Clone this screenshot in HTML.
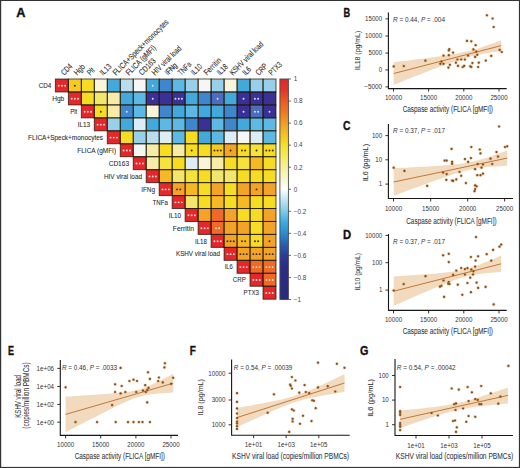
<!DOCTYPE html>
<html><head><meta charset="utf-8"><style>
html,body{margin:0;padding:0;background:#fff;}
body{width:520px;height:468px;overflow:hidden;}
svg{display:block;font-family:"Liberation Sans", sans-serif;}
</style></head><body>
<svg width="520" height="468" viewBox="0 0 520 468">
<rect x="0" y="0" width="520" height="468" fill="#fff"/>
<g>
<rect x="55.40" y="79.00" width="12.976" height="12.952" fill="#e3272a"/>
<rect x="68.38" y="79.00" width="12.976" height="12.952" fill="#f6ca22"/>
<rect x="81.35" y="79.00" width="12.976" height="12.952" fill="#f7dc24"/>
<rect x="94.33" y="79.00" width="12.976" height="12.952" fill="#f9f5da"/>
<rect x="107.30" y="79.00" width="12.976" height="12.952" fill="#43a9dc"/>
<rect x="120.28" y="79.00" width="12.976" height="12.952" fill="#b9dcee"/>
<rect x="133.26" y="79.00" width="12.976" height="12.952" fill="#f6f7f5"/>
<rect x="146.23" y="79.00" width="12.976" height="12.952" fill="#43a9dc"/>
<rect x="159.21" y="79.00" width="12.976" height="12.952" fill="#3f86cc"/>
<rect x="172.18" y="79.00" width="12.976" height="12.952" fill="#5db9e3"/>
<rect x="185.16" y="79.00" width="12.976" height="12.952" fill="#98d0ea"/>
<rect x="198.14" y="79.00" width="12.976" height="12.952" fill="#f6f7f5"/>
<rect x="211.11" y="79.00" width="12.976" height="12.952" fill="#98d0ea"/>
<rect x="224.09" y="79.00" width="12.976" height="12.952" fill="#f9f5da"/>
<rect x="237.06" y="79.00" width="12.976" height="12.952" fill="#43a9dc"/>
<rect x="250.04" y="79.00" width="12.976" height="12.952" fill="#98d0ea"/>
<rect x="263.02" y="79.00" width="12.976" height="12.952" fill="#98d0ea"/>
<rect x="68.38" y="91.95" width="12.976" height="12.952" fill="#e3272a"/>
<rect x="81.35" y="91.95" width="12.976" height="12.952" fill="#f7dc24"/>
<rect x="94.33" y="91.95" width="12.976" height="12.952" fill="#f3e66c"/>
<rect x="107.30" y="91.95" width="12.976" height="12.952" fill="#f6eca8"/>
<rect x="120.28" y="91.95" width="12.976" height="12.952" fill="#43a9dc"/>
<rect x="133.26" y="91.95" width="12.976" height="12.952" fill="#5db9e3"/>
<rect x="146.23" y="91.95" width="12.976" height="12.952" fill="#3a3096"/>
<rect x="159.21" y="91.95" width="12.976" height="12.952" fill="#3a3096"/>
<rect x="172.18" y="91.95" width="12.976" height="12.952" fill="#3a3096"/>
<rect x="185.16" y="91.95" width="12.976" height="12.952" fill="#43a9dc"/>
<rect x="198.14" y="91.95" width="12.976" height="12.952" fill="#3f86cc"/>
<rect x="211.11" y="91.95" width="12.976" height="12.952" fill="#4b6cbf"/>
<rect x="224.09" y="91.95" width="12.976" height="12.952" fill="#43a9dc"/>
<rect x="237.06" y="91.95" width="12.976" height="12.952" fill="#3a3096"/>
<rect x="250.04" y="91.95" width="12.976" height="12.952" fill="#3a3096"/>
<rect x="263.02" y="91.95" width="12.976" height="12.952" fill="#3a3096"/>
<rect x="81.35" y="104.90" width="12.976" height="12.952" fill="#e3272a"/>
<rect x="94.33" y="104.90" width="12.976" height="12.952" fill="#f7dc24"/>
<rect x="107.30" y="104.90" width="12.976" height="12.952" fill="#f6eca8"/>
<rect x="120.28" y="104.90" width="12.976" height="12.952" fill="#3f86cc"/>
<rect x="133.26" y="104.90" width="12.976" height="12.952" fill="#5db9e3"/>
<rect x="146.23" y="104.90" width="12.976" height="12.952" fill="#f9f5da"/>
<rect x="159.21" y="104.90" width="12.976" height="12.952" fill="#3f86cc"/>
<rect x="172.18" y="104.90" width="12.976" height="12.952" fill="#43a9dc"/>
<rect x="185.16" y="104.90" width="12.976" height="12.952" fill="#5db9e3"/>
<rect x="198.14" y="104.90" width="12.976" height="12.952" fill="#43a9dc"/>
<rect x="211.11" y="104.90" width="12.976" height="12.952" fill="#43a9dc"/>
<rect x="224.09" y="104.90" width="12.976" height="12.952" fill="#3f86cc"/>
<rect x="237.06" y="104.90" width="12.976" height="12.952" fill="#3a3096"/>
<rect x="250.04" y="104.90" width="12.976" height="12.952" fill="#4b6cbf"/>
<rect x="263.02" y="104.90" width="12.976" height="12.952" fill="#3a3096"/>
<rect x="94.33" y="117.86" width="12.976" height="12.952" fill="#e3272a"/>
<rect x="107.30" y="117.86" width="12.976" height="12.952" fill="#98d0ea"/>
<rect x="120.28" y="117.86" width="12.976" height="12.952" fill="#43a9dc"/>
<rect x="133.26" y="117.86" width="12.976" height="12.952" fill="#dcedf6"/>
<rect x="146.23" y="117.86" width="12.976" height="12.952" fill="#43a9dc"/>
<rect x="159.21" y="117.86" width="12.976" height="12.952" fill="#5db9e3"/>
<rect x="172.18" y="117.86" width="12.976" height="12.952" fill="#5db9e3"/>
<rect x="185.16" y="117.86" width="12.976" height="12.952" fill="#3f86cc"/>
<rect x="198.14" y="117.86" width="12.976" height="12.952" fill="#3a3096"/>
<rect x="211.11" y="117.86" width="12.976" height="12.952" fill="#5db9e3"/>
<rect x="224.09" y="117.86" width="12.976" height="12.952" fill="#3f86cc"/>
<rect x="237.06" y="117.86" width="12.976" height="12.952" fill="#43a9dc"/>
<rect x="250.04" y="117.86" width="12.976" height="12.952" fill="#5db9e3"/>
<rect x="263.02" y="117.86" width="12.976" height="12.952" fill="#5db9e3"/>
<rect x="107.30" y="130.81" width="12.976" height="12.952" fill="#e3272a"/>
<rect x="120.28" y="130.81" width="12.976" height="12.952" fill="#f7dc24"/>
<rect x="133.26" y="130.81" width="12.976" height="12.952" fill="#98d0ea"/>
<rect x="146.23" y="130.81" width="12.976" height="12.952" fill="#b9dcee"/>
<rect x="159.21" y="130.81" width="12.976" height="12.952" fill="#dcedf6"/>
<rect x="172.18" y="130.81" width="12.976" height="12.952" fill="#5db9e3"/>
<rect x="185.16" y="130.81" width="12.976" height="12.952" fill="#f7dc24"/>
<rect x="198.14" y="130.81" width="12.976" height="12.952" fill="#43a9dc"/>
<rect x="211.11" y="130.81" width="12.976" height="12.952" fill="#5db9e3"/>
<rect x="224.09" y="130.81" width="12.976" height="12.952" fill="#dcedf6"/>
<rect x="237.06" y="130.81" width="12.976" height="12.952" fill="#f6f7f5"/>
<rect x="250.04" y="130.81" width="12.976" height="12.952" fill="#dcedf6"/>
<rect x="263.02" y="130.81" width="12.976" height="12.952" fill="#5db9e3"/>
<rect x="120.28" y="143.76" width="12.976" height="12.952" fill="#e3272a"/>
<rect x="133.26" y="143.76" width="12.976" height="12.952" fill="#f6f7f5"/>
<rect x="146.23" y="143.76" width="12.976" height="12.952" fill="#f6eca8"/>
<rect x="159.21" y="143.76" width="12.976" height="12.952" fill="#f7dc24"/>
<rect x="172.18" y="143.76" width="12.976" height="12.952" fill="#f6eca8"/>
<rect x="185.16" y="143.76" width="12.976" height="12.952" fill="#f7dc24"/>
<rect x="198.14" y="143.76" width="12.976" height="12.952" fill="#f7dc24"/>
<rect x="211.11" y="143.76" width="12.976" height="12.952" fill="#f6ca22"/>
<rect x="224.09" y="143.76" width="12.976" height="12.952" fill="#f3a428"/>
<rect x="237.06" y="143.76" width="12.976" height="12.952" fill="#f7dc24"/>
<rect x="250.04" y="143.76" width="12.976" height="12.952" fill="#f6e23c"/>
<rect x="263.02" y="143.76" width="12.976" height="12.952" fill="#f7dc24"/>
<rect x="133.26" y="156.71" width="12.976" height="12.952" fill="#e3272a"/>
<rect x="146.23" y="156.71" width="12.976" height="12.952" fill="#f6eca8"/>
<rect x="159.21" y="156.71" width="12.976" height="12.952" fill="#f6e23c"/>
<rect x="172.18" y="156.71" width="12.976" height="12.952" fill="#f7dc24"/>
<rect x="185.16" y="156.71" width="12.976" height="12.952" fill="#dcedf6"/>
<rect x="198.14" y="156.71" width="12.976" height="12.952" fill="#f9f5da"/>
<rect x="211.11" y="156.71" width="12.976" height="12.952" fill="#f6eca8"/>
<rect x="224.09" y="156.71" width="12.976" height="12.952" fill="#f7dc24"/>
<rect x="237.06" y="156.71" width="12.976" height="12.952" fill="#f6e23c"/>
<rect x="250.04" y="156.71" width="12.976" height="12.952" fill="#f6b824"/>
<rect x="263.02" y="156.71" width="12.976" height="12.952" fill="#f7dc24"/>
<rect x="146.23" y="169.66" width="12.976" height="12.952" fill="#e3272a"/>
<rect x="159.21" y="169.66" width="12.976" height="12.952" fill="#f6b824"/>
<rect x="172.18" y="169.66" width="12.976" height="12.952" fill="#f3e66c"/>
<rect x="185.16" y="169.66" width="12.976" height="12.952" fill="#f6e23c"/>
<rect x="198.14" y="169.66" width="12.976" height="12.952" fill="#f7dc24"/>
<rect x="211.11" y="169.66" width="12.976" height="12.952" fill="#f3e66c"/>
<rect x="224.09" y="169.66" width="12.976" height="12.952" fill="#f3e66c"/>
<rect x="237.06" y="169.66" width="12.976" height="12.952" fill="#f7dc24"/>
<rect x="250.04" y="169.66" width="12.976" height="12.952" fill="#f7dc24"/>
<rect x="263.02" y="169.66" width="12.976" height="12.952" fill="#f7dc24"/>
<rect x="159.21" y="182.62" width="12.976" height="12.952" fill="#e3272a"/>
<rect x="172.18" y="182.62" width="12.976" height="12.952" fill="#f3a428"/>
<rect x="185.16" y="182.62" width="12.976" height="12.952" fill="#f6b824"/>
<rect x="198.14" y="182.62" width="12.976" height="12.952" fill="#f7dc24"/>
<rect x="211.11" y="182.62" width="12.976" height="12.952" fill="#f3a428"/>
<rect x="224.09" y="182.62" width="12.976" height="12.952" fill="#f7dc24"/>
<rect x="237.06" y="182.62" width="12.976" height="12.952" fill="#f3a428"/>
<rect x="250.04" y="182.62" width="12.976" height="12.952" fill="#f3a428"/>
<rect x="263.02" y="182.62" width="12.976" height="12.952" fill="#f3a428"/>
<rect x="172.18" y="195.57" width="12.976" height="12.952" fill="#e3272a"/>
<rect x="185.16" y="195.57" width="12.976" height="12.952" fill="#f3e66c"/>
<rect x="198.14" y="195.57" width="12.976" height="12.952" fill="#f7dc24"/>
<rect x="211.11" y="195.57" width="12.976" height="12.952" fill="#f6b824"/>
<rect x="224.09" y="195.57" width="12.976" height="12.952" fill="#f7dc24"/>
<rect x="237.06" y="195.57" width="12.976" height="12.952" fill="#f6b824"/>
<rect x="250.04" y="195.57" width="12.976" height="12.952" fill="#f7dc24"/>
<rect x="263.02" y="195.57" width="12.976" height="12.952" fill="#f7dc24"/>
<rect x="185.16" y="208.52" width="12.976" height="12.952" fill="#e3272a"/>
<rect x="198.14" y="208.52" width="12.976" height="12.952" fill="#f3a428"/>
<rect x="211.11" y="208.52" width="12.976" height="12.952" fill="#ee6a26"/>
<rect x="224.09" y="208.52" width="12.976" height="12.952" fill="#f3a428"/>
<rect x="237.06" y="208.52" width="12.976" height="12.952" fill="#f7dc24"/>
<rect x="250.04" y="208.52" width="12.976" height="12.952" fill="#f7dc24"/>
<rect x="263.02" y="208.52" width="12.976" height="12.952" fill="#f3a428"/>
<rect x="198.14" y="221.47" width="12.976" height="12.952" fill="#e3272a"/>
<rect x="211.11" y="221.47" width="12.976" height="12.952" fill="#ee6a26"/>
<rect x="224.09" y="221.47" width="12.976" height="12.952" fill="#f3a428"/>
<rect x="237.06" y="221.47" width="12.976" height="12.952" fill="#f3a428"/>
<rect x="250.04" y="221.47" width="12.976" height="12.952" fill="#f7dc24"/>
<rect x="263.02" y="221.47" width="12.976" height="12.952" fill="#f3a428"/>
<rect x="211.11" y="234.42" width="12.976" height="12.952" fill="#e3272a"/>
<rect x="224.09" y="234.42" width="12.976" height="12.952" fill="#f3a428"/>
<rect x="237.06" y="234.42" width="12.976" height="12.952" fill="#f6b824"/>
<rect x="250.04" y="234.42" width="12.976" height="12.952" fill="#f7dc24"/>
<rect x="263.02" y="234.42" width="12.976" height="12.952" fill="#f3a428"/>
<rect x="224.09" y="247.38" width="12.976" height="12.952" fill="#e3272a"/>
<rect x="237.06" y="247.38" width="12.976" height="12.952" fill="#f3a428"/>
<rect x="250.04" y="247.38" width="12.976" height="12.952" fill="#f3a428"/>
<rect x="263.02" y="247.38" width="12.976" height="12.952" fill="#f3a428"/>
<rect x="237.06" y="260.33" width="12.976" height="12.952" fill="#e3272a"/>
<rect x="250.04" y="260.33" width="12.976" height="12.952" fill="#ee6a26"/>
<rect x="263.02" y="260.33" width="12.976" height="12.952" fill="#ee6a26"/>
<rect x="250.04" y="273.28" width="12.976" height="12.952" fill="#e3272a"/>
<rect x="263.02" y="273.28" width="12.976" height="12.952" fill="#ee6a26"/>
<rect x="263.02" y="286.23" width="12.976" height="12.952" fill="#e3272a"/>
</g><g stroke="#1a1200" stroke-width="1" fill="none" stroke-opacity="0.72">
<rect x="55.40" y="79.00" width="12.976" height="12.952"/>
<rect x="68.38" y="79.00" width="12.976" height="12.952"/>
<rect x="81.35" y="79.00" width="12.976" height="12.952"/>
<rect x="94.33" y="79.00" width="12.976" height="12.952"/>
<rect x="107.30" y="79.00" width="12.976" height="12.952"/>
<rect x="120.28" y="79.00" width="12.976" height="12.952"/>
<rect x="133.26" y="79.00" width="12.976" height="12.952"/>
<rect x="146.23" y="79.00" width="12.976" height="12.952"/>
<rect x="159.21" y="79.00" width="12.976" height="12.952"/>
<rect x="172.18" y="79.00" width="12.976" height="12.952"/>
<rect x="185.16" y="79.00" width="12.976" height="12.952"/>
<rect x="198.14" y="79.00" width="12.976" height="12.952"/>
<rect x="211.11" y="79.00" width="12.976" height="12.952"/>
<rect x="224.09" y="79.00" width="12.976" height="12.952"/>
<rect x="237.06" y="79.00" width="12.976" height="12.952"/>
<rect x="250.04" y="79.00" width="12.976" height="12.952"/>
<rect x="263.02" y="79.00" width="12.976" height="12.952"/>
<rect x="68.38" y="91.95" width="12.976" height="12.952"/>
<rect x="81.35" y="91.95" width="12.976" height="12.952"/>
<rect x="94.33" y="91.95" width="12.976" height="12.952"/>
<rect x="107.30" y="91.95" width="12.976" height="12.952"/>
<rect x="120.28" y="91.95" width="12.976" height="12.952"/>
<rect x="133.26" y="91.95" width="12.976" height="12.952"/>
<rect x="146.23" y="91.95" width="12.976" height="12.952"/>
<rect x="159.21" y="91.95" width="12.976" height="12.952"/>
<rect x="172.18" y="91.95" width="12.976" height="12.952"/>
<rect x="185.16" y="91.95" width="12.976" height="12.952"/>
<rect x="198.14" y="91.95" width="12.976" height="12.952"/>
<rect x="211.11" y="91.95" width="12.976" height="12.952"/>
<rect x="224.09" y="91.95" width="12.976" height="12.952"/>
<rect x="237.06" y="91.95" width="12.976" height="12.952"/>
<rect x="250.04" y="91.95" width="12.976" height="12.952"/>
<rect x="263.02" y="91.95" width="12.976" height="12.952"/>
<rect x="81.35" y="104.90" width="12.976" height="12.952"/>
<rect x="94.33" y="104.90" width="12.976" height="12.952"/>
<rect x="107.30" y="104.90" width="12.976" height="12.952"/>
<rect x="120.28" y="104.90" width="12.976" height="12.952"/>
<rect x="133.26" y="104.90" width="12.976" height="12.952"/>
<rect x="146.23" y="104.90" width="12.976" height="12.952"/>
<rect x="159.21" y="104.90" width="12.976" height="12.952"/>
<rect x="172.18" y="104.90" width="12.976" height="12.952"/>
<rect x="185.16" y="104.90" width="12.976" height="12.952"/>
<rect x="198.14" y="104.90" width="12.976" height="12.952"/>
<rect x="211.11" y="104.90" width="12.976" height="12.952"/>
<rect x="224.09" y="104.90" width="12.976" height="12.952"/>
<rect x="237.06" y="104.90" width="12.976" height="12.952"/>
<rect x="250.04" y="104.90" width="12.976" height="12.952"/>
<rect x="263.02" y="104.90" width="12.976" height="12.952"/>
<rect x="94.33" y="117.86" width="12.976" height="12.952"/>
<rect x="107.30" y="117.86" width="12.976" height="12.952"/>
<rect x="120.28" y="117.86" width="12.976" height="12.952"/>
<rect x="133.26" y="117.86" width="12.976" height="12.952"/>
<rect x="146.23" y="117.86" width="12.976" height="12.952"/>
<rect x="159.21" y="117.86" width="12.976" height="12.952"/>
<rect x="172.18" y="117.86" width="12.976" height="12.952"/>
<rect x="185.16" y="117.86" width="12.976" height="12.952"/>
<rect x="198.14" y="117.86" width="12.976" height="12.952"/>
<rect x="211.11" y="117.86" width="12.976" height="12.952"/>
<rect x="224.09" y="117.86" width="12.976" height="12.952"/>
<rect x="237.06" y="117.86" width="12.976" height="12.952"/>
<rect x="250.04" y="117.86" width="12.976" height="12.952"/>
<rect x="263.02" y="117.86" width="12.976" height="12.952"/>
<rect x="107.30" y="130.81" width="12.976" height="12.952"/>
<rect x="120.28" y="130.81" width="12.976" height="12.952"/>
<rect x="133.26" y="130.81" width="12.976" height="12.952"/>
<rect x="146.23" y="130.81" width="12.976" height="12.952"/>
<rect x="159.21" y="130.81" width="12.976" height="12.952"/>
<rect x="172.18" y="130.81" width="12.976" height="12.952"/>
<rect x="185.16" y="130.81" width="12.976" height="12.952"/>
<rect x="198.14" y="130.81" width="12.976" height="12.952"/>
<rect x="211.11" y="130.81" width="12.976" height="12.952"/>
<rect x="224.09" y="130.81" width="12.976" height="12.952"/>
<rect x="237.06" y="130.81" width="12.976" height="12.952"/>
<rect x="250.04" y="130.81" width="12.976" height="12.952"/>
<rect x="263.02" y="130.81" width="12.976" height="12.952"/>
<rect x="120.28" y="143.76" width="12.976" height="12.952"/>
<rect x="133.26" y="143.76" width="12.976" height="12.952"/>
<rect x="146.23" y="143.76" width="12.976" height="12.952"/>
<rect x="159.21" y="143.76" width="12.976" height="12.952"/>
<rect x="172.18" y="143.76" width="12.976" height="12.952"/>
<rect x="185.16" y="143.76" width="12.976" height="12.952"/>
<rect x="198.14" y="143.76" width="12.976" height="12.952"/>
<rect x="211.11" y="143.76" width="12.976" height="12.952"/>
<rect x="224.09" y="143.76" width="12.976" height="12.952"/>
<rect x="237.06" y="143.76" width="12.976" height="12.952"/>
<rect x="250.04" y="143.76" width="12.976" height="12.952"/>
<rect x="263.02" y="143.76" width="12.976" height="12.952"/>
<rect x="133.26" y="156.71" width="12.976" height="12.952"/>
<rect x="146.23" y="156.71" width="12.976" height="12.952"/>
<rect x="159.21" y="156.71" width="12.976" height="12.952"/>
<rect x="172.18" y="156.71" width="12.976" height="12.952"/>
<rect x="185.16" y="156.71" width="12.976" height="12.952"/>
<rect x="198.14" y="156.71" width="12.976" height="12.952"/>
<rect x="211.11" y="156.71" width="12.976" height="12.952"/>
<rect x="224.09" y="156.71" width="12.976" height="12.952"/>
<rect x="237.06" y="156.71" width="12.976" height="12.952"/>
<rect x="250.04" y="156.71" width="12.976" height="12.952"/>
<rect x="263.02" y="156.71" width="12.976" height="12.952"/>
<rect x="146.23" y="169.66" width="12.976" height="12.952"/>
<rect x="159.21" y="169.66" width="12.976" height="12.952"/>
<rect x="172.18" y="169.66" width="12.976" height="12.952"/>
<rect x="185.16" y="169.66" width="12.976" height="12.952"/>
<rect x="198.14" y="169.66" width="12.976" height="12.952"/>
<rect x="211.11" y="169.66" width="12.976" height="12.952"/>
<rect x="224.09" y="169.66" width="12.976" height="12.952"/>
<rect x="237.06" y="169.66" width="12.976" height="12.952"/>
<rect x="250.04" y="169.66" width="12.976" height="12.952"/>
<rect x="263.02" y="169.66" width="12.976" height="12.952"/>
<rect x="159.21" y="182.62" width="12.976" height="12.952"/>
<rect x="172.18" y="182.62" width="12.976" height="12.952"/>
<rect x="185.16" y="182.62" width="12.976" height="12.952"/>
<rect x="198.14" y="182.62" width="12.976" height="12.952"/>
<rect x="211.11" y="182.62" width="12.976" height="12.952"/>
<rect x="224.09" y="182.62" width="12.976" height="12.952"/>
<rect x="237.06" y="182.62" width="12.976" height="12.952"/>
<rect x="250.04" y="182.62" width="12.976" height="12.952"/>
<rect x="263.02" y="182.62" width="12.976" height="12.952"/>
<rect x="172.18" y="195.57" width="12.976" height="12.952"/>
<rect x="185.16" y="195.57" width="12.976" height="12.952"/>
<rect x="198.14" y="195.57" width="12.976" height="12.952"/>
<rect x="211.11" y="195.57" width="12.976" height="12.952"/>
<rect x="224.09" y="195.57" width="12.976" height="12.952"/>
<rect x="237.06" y="195.57" width="12.976" height="12.952"/>
<rect x="250.04" y="195.57" width="12.976" height="12.952"/>
<rect x="263.02" y="195.57" width="12.976" height="12.952"/>
<rect x="185.16" y="208.52" width="12.976" height="12.952"/>
<rect x="198.14" y="208.52" width="12.976" height="12.952"/>
<rect x="211.11" y="208.52" width="12.976" height="12.952"/>
<rect x="224.09" y="208.52" width="12.976" height="12.952"/>
<rect x="237.06" y="208.52" width="12.976" height="12.952"/>
<rect x="250.04" y="208.52" width="12.976" height="12.952"/>
<rect x="263.02" y="208.52" width="12.976" height="12.952"/>
<rect x="198.14" y="221.47" width="12.976" height="12.952"/>
<rect x="211.11" y="221.47" width="12.976" height="12.952"/>
<rect x="224.09" y="221.47" width="12.976" height="12.952"/>
<rect x="237.06" y="221.47" width="12.976" height="12.952"/>
<rect x="250.04" y="221.47" width="12.976" height="12.952"/>
<rect x="263.02" y="221.47" width="12.976" height="12.952"/>
<rect x="211.11" y="234.42" width="12.976" height="12.952"/>
<rect x="224.09" y="234.42" width="12.976" height="12.952"/>
<rect x="237.06" y="234.42" width="12.976" height="12.952"/>
<rect x="250.04" y="234.42" width="12.976" height="12.952"/>
<rect x="263.02" y="234.42" width="12.976" height="12.952"/>
<rect x="224.09" y="247.38" width="12.976" height="12.952"/>
<rect x="237.06" y="247.38" width="12.976" height="12.952"/>
<rect x="250.04" y="247.38" width="12.976" height="12.952"/>
<rect x="263.02" y="247.38" width="12.976" height="12.952"/>
<rect x="237.06" y="260.33" width="12.976" height="12.952"/>
<rect x="250.04" y="260.33" width="12.976" height="12.952"/>
<rect x="263.02" y="260.33" width="12.976" height="12.952"/>
<rect x="250.04" y="273.28" width="12.976" height="12.952"/>
<rect x="263.02" y="273.28" width="12.976" height="12.952"/>
<rect x="263.02" y="286.23" width="12.976" height="12.952"/>
</g>
<circle cx="58.69" cy="85.78" r="0.95" fill="#fbe3dc"/>
<circle cx="61.89" cy="85.78" r="0.95" fill="#fbe3dc"/>
<circle cx="65.09" cy="85.78" r="0.95" fill="#fbe3dc"/>
<circle cx="74.86" cy="85.78" r="0.95" fill="#3a2a10"/>
<circle cx="152.72" cy="85.78" r="0.95" fill="#d8e8ff"/>
<circle cx="71.66" cy="98.73" r="0.95" fill="#fbe3dc"/>
<circle cx="74.86" cy="98.73" r="0.95" fill="#fbe3dc"/>
<circle cx="78.06" cy="98.73" r="0.95" fill="#fbe3dc"/>
<circle cx="152.72" cy="98.73" r="0.95" fill="#d8e8ff"/>
<circle cx="175.47" cy="98.73" r="0.95" fill="#d8e8ff"/>
<circle cx="178.67" cy="98.73" r="0.95" fill="#d8e8ff"/>
<circle cx="181.87" cy="98.73" r="0.95" fill="#d8e8ff"/>
<circle cx="217.60" cy="98.73" r="0.95" fill="#d8e8ff"/>
<circle cx="243.55" cy="98.73" r="0.95" fill="#d8e8ff"/>
<circle cx="254.93" cy="98.73" r="0.95" fill="#d8e8ff"/>
<circle cx="258.13" cy="98.73" r="0.95" fill="#d8e8ff"/>
<circle cx="84.64" cy="111.68" r="0.95" fill="#fbe3dc"/>
<circle cx="87.84" cy="111.68" r="0.95" fill="#fbe3dc"/>
<circle cx="91.04" cy="111.68" r="0.95" fill="#fbe3dc"/>
<circle cx="100.82" cy="111.68" r="0.95" fill="#3a2a10"/>
<circle cx="126.77" cy="111.68" r="0.95" fill="#d8e8ff"/>
<circle cx="243.55" cy="111.68" r="0.95" fill="#d8e8ff"/>
<circle cx="254.93" cy="111.68" r="0.95" fill="#d8e8ff"/>
<circle cx="258.13" cy="111.68" r="0.95" fill="#d8e8ff"/>
<circle cx="269.50" cy="111.68" r="0.95" fill="#d8e8ff"/>
<circle cx="97.62" cy="124.63" r="0.95" fill="#fbe3dc"/>
<circle cx="100.82" cy="124.63" r="0.95" fill="#fbe3dc"/>
<circle cx="104.02" cy="124.63" r="0.95" fill="#fbe3dc"/>
<circle cx="110.59" cy="137.58" r="0.95" fill="#fbe3dc"/>
<circle cx="113.79" cy="137.58" r="0.95" fill="#fbe3dc"/>
<circle cx="116.99" cy="137.58" r="0.95" fill="#fbe3dc"/>
<circle cx="123.57" cy="150.54" r="0.95" fill="#fbe3dc"/>
<circle cx="126.77" cy="150.54" r="0.95" fill="#fbe3dc"/>
<circle cx="129.97" cy="150.54" r="0.95" fill="#fbe3dc"/>
<circle cx="191.65" cy="150.54" r="0.95" fill="#3a2a10"/>
<circle cx="214.40" cy="150.54" r="0.95" fill="#3a2a10"/>
<circle cx="217.60" cy="150.54" r="0.95" fill="#3a2a10"/>
<circle cx="220.80" cy="150.54" r="0.95" fill="#3a2a10"/>
<circle cx="230.58" cy="150.54" r="0.95" fill="#3a2a10"/>
<circle cx="241.95" cy="150.54" r="0.95" fill="#3a2a10"/>
<circle cx="245.15" cy="150.54" r="0.95" fill="#3a2a10"/>
<circle cx="256.53" cy="150.54" r="0.95" fill="#3a2a10"/>
<circle cx="266.30" cy="150.54" r="0.95" fill="#3a2a10"/>
<circle cx="269.50" cy="150.54" r="0.95" fill="#3a2a10"/>
<circle cx="272.70" cy="150.54" r="0.95" fill="#3a2a10"/>
<circle cx="136.54" cy="163.49" r="0.95" fill="#fbe3dc"/>
<circle cx="139.74" cy="163.49" r="0.95" fill="#fbe3dc"/>
<circle cx="142.94" cy="163.49" r="0.95" fill="#fbe3dc"/>
<circle cx="149.52" cy="176.44" r="0.95" fill="#fbe3dc"/>
<circle cx="152.72" cy="176.44" r="0.95" fill="#fbe3dc"/>
<circle cx="155.92" cy="176.44" r="0.95" fill="#fbe3dc"/>
<circle cx="162.50" cy="189.39" r="0.95" fill="#fbe3dc"/>
<circle cx="165.70" cy="189.39" r="0.95" fill="#fbe3dc"/>
<circle cx="168.90" cy="189.39" r="0.95" fill="#fbe3dc"/>
<circle cx="177.07" cy="189.39" r="0.95" fill="#3a2a10"/>
<circle cx="180.27" cy="189.39" r="0.95" fill="#3a2a10"/>
<circle cx="256.53" cy="189.39" r="0.95" fill="#3a2a10"/>
<circle cx="175.47" cy="202.34" r="0.95" fill="#fbe3dc"/>
<circle cx="178.67" cy="202.34" r="0.95" fill="#fbe3dc"/>
<circle cx="181.87" cy="202.34" r="0.95" fill="#fbe3dc"/>
<circle cx="188.45" cy="215.30" r="0.95" fill="#fbe3dc"/>
<circle cx="191.65" cy="215.30" r="0.95" fill="#fbe3dc"/>
<circle cx="194.85" cy="215.30" r="0.95" fill="#fbe3dc"/>
<circle cx="201.42" cy="228.25" r="0.95" fill="#fbe3dc"/>
<circle cx="204.62" cy="228.25" r="0.95" fill="#fbe3dc"/>
<circle cx="207.82" cy="228.25" r="0.95" fill="#fbe3dc"/>
<circle cx="216.00" cy="228.25" r="0.95" fill="#f6e0c8"/>
<circle cx="219.20" cy="228.25" r="0.95" fill="#f6e0c8"/>
<circle cx="214.40" cy="241.20" r="0.95" fill="#fbe3dc"/>
<circle cx="217.60" cy="241.20" r="0.95" fill="#fbe3dc"/>
<circle cx="220.80" cy="241.20" r="0.95" fill="#fbe3dc"/>
<circle cx="227.38" cy="241.20" r="0.95" fill="#3a2a10"/>
<circle cx="230.58" cy="241.20" r="0.95" fill="#3a2a10"/>
<circle cx="233.78" cy="241.20" r="0.95" fill="#3a2a10"/>
<circle cx="241.95" cy="241.20" r="0.95" fill="#3a2a10"/>
<circle cx="245.15" cy="241.20" r="0.95" fill="#3a2a10"/>
<circle cx="254.93" cy="241.20" r="0.95" fill="#3a2a10"/>
<circle cx="258.13" cy="241.20" r="0.95" fill="#3a2a10"/>
<circle cx="269.50" cy="241.20" r="0.95" fill="#3a2a10"/>
<circle cx="227.38" cy="254.15" r="0.95" fill="#fbe3dc"/>
<circle cx="230.58" cy="254.15" r="0.95" fill="#fbe3dc"/>
<circle cx="233.78" cy="254.15" r="0.95" fill="#fbe3dc"/>
<circle cx="240.35" cy="254.15" r="0.95" fill="#3a2a10"/>
<circle cx="243.55" cy="254.15" r="0.95" fill="#3a2a10"/>
<circle cx="246.75" cy="254.15" r="0.95" fill="#3a2a10"/>
<circle cx="253.33" cy="254.15" r="0.95" fill="#3a2a10"/>
<circle cx="256.53" cy="254.15" r="0.95" fill="#3a2a10"/>
<circle cx="259.73" cy="254.15" r="0.95" fill="#3a2a10"/>
<circle cx="266.30" cy="254.15" r="0.95" fill="#3a2a10"/>
<circle cx="269.50" cy="254.15" r="0.95" fill="#3a2a10"/>
<circle cx="272.70" cy="254.15" r="0.95" fill="#3a2a10"/>
<circle cx="240.35" cy="267.10" r="0.95" fill="#fbe3dc"/>
<circle cx="243.55" cy="267.10" r="0.95" fill="#fbe3dc"/>
<circle cx="246.75" cy="267.10" r="0.95" fill="#fbe3dc"/>
<circle cx="253.33" cy="267.10" r="0.95" fill="#f6e0c8"/>
<circle cx="256.53" cy="267.10" r="0.95" fill="#f6e0c8"/>
<circle cx="259.73" cy="267.10" r="0.95" fill="#f6e0c8"/>
<circle cx="266.30" cy="267.10" r="0.95" fill="#f6e0c8"/>
<circle cx="269.50" cy="267.10" r="0.95" fill="#f6e0c8"/>
<circle cx="272.70" cy="267.10" r="0.95" fill="#f6e0c8"/>
<circle cx="253.33" cy="280.06" r="0.95" fill="#fbe3dc"/>
<circle cx="256.53" cy="280.06" r="0.95" fill="#fbe3dc"/>
<circle cx="259.73" cy="280.06" r="0.95" fill="#fbe3dc"/>
<circle cx="266.30" cy="280.06" r="0.95" fill="#f6e0c8"/>
<circle cx="269.50" cy="280.06" r="0.95" fill="#f6e0c8"/>
<circle cx="272.70" cy="280.06" r="0.95" fill="#f6e0c8"/>
<circle cx="266.30" cy="293.01" r="0.95" fill="#fbe3dc"/>
<circle cx="269.50" cy="293.01" r="0.95" fill="#fbe3dc"/>
<circle cx="272.70" cy="293.01" r="0.95" fill="#fbe3dc"/>
<text x="51.20" y="88.08" font-size="7.9" text-anchor="end" fill="#2a2a2a" textLength="12.50" lengthAdjust="spacingAndGlyphs" stroke="#2a2a2a" stroke-width="0.08">CD4</text>
<text x="64.18" y="101.03" font-size="7.9" text-anchor="end" fill="#2a2a2a" textLength="12.00" lengthAdjust="spacingAndGlyphs" stroke="#2a2a2a" stroke-width="0.08">Hgb</text>
<text x="77.15" y="113.98" font-size="7.9" text-anchor="end" fill="#2a2a2a" textLength="7.00" lengthAdjust="spacingAndGlyphs" stroke="#2a2a2a" stroke-width="0.08">Plt</text>
<text x="90.13" y="126.93" font-size="7.9" text-anchor="end" fill="#2a2a2a" textLength="12.50" lengthAdjust="spacingAndGlyphs" stroke="#2a2a2a" stroke-width="0.08">IL13</text>
<text x="103.10" y="139.88" font-size="7.9" text-anchor="end" fill="#2a2a2a" textLength="75.00" lengthAdjust="spacingAndGlyphs" stroke="#2a2a2a" stroke-width="0.08">FLICA+Speck+monocytes</text>
<text x="116.08" y="152.84" font-size="7.9" text-anchor="end" fill="#2a2a2a" textLength="38.75" lengthAdjust="spacingAndGlyphs" stroke="#2a2a2a" stroke-width="0.08">FLICA (gMFI)</text>
<text x="129.06" y="165.79" font-size="7.9" text-anchor="end" fill="#2a2a2a" textLength="20.40" lengthAdjust="spacingAndGlyphs" stroke="#2a2a2a" stroke-width="0.08">CD163</text>
<text x="142.03" y="178.74" font-size="7.9" text-anchor="end" fill="#2a2a2a" textLength="38.10" lengthAdjust="spacingAndGlyphs" stroke="#2a2a2a" stroke-width="0.08">HIV viral load</text>
<text x="155.01" y="191.69" font-size="7.9" text-anchor="end" fill="#2a2a2a" textLength="13.80" lengthAdjust="spacingAndGlyphs" stroke="#2a2a2a" stroke-width="0.08">IFNg</text>
<text x="167.98" y="204.64" font-size="7.9" text-anchor="end" fill="#2a2a2a" textLength="15.40" lengthAdjust="spacingAndGlyphs" stroke="#2a2a2a" stroke-width="0.08">TNFa</text>
<text x="180.96" y="217.60" font-size="7.9" text-anchor="end" fill="#2a2a2a" textLength="12.30" lengthAdjust="spacingAndGlyphs" stroke="#2a2a2a" stroke-width="0.08">IL10</text>
<text x="193.94" y="230.55" font-size="7.9" text-anchor="end" fill="#2a2a2a" textLength="21.10" lengthAdjust="spacingAndGlyphs" stroke="#2a2a2a" stroke-width="0.08">Ferritin</text>
<text x="206.91" y="243.50" font-size="7.9" text-anchor="end" fill="#2a2a2a" textLength="11.90" lengthAdjust="spacingAndGlyphs" stroke="#2a2a2a" stroke-width="0.08">IL18</text>
<text x="219.89" y="256.45" font-size="7.9" text-anchor="end" fill="#2a2a2a" textLength="43.90" lengthAdjust="spacingAndGlyphs" stroke="#2a2a2a" stroke-width="0.08">KSHV viral load</text>
<text x="232.86" y="269.40" font-size="7.9" text-anchor="end" fill="#2a2a2a" textLength="8.10" lengthAdjust="spacingAndGlyphs" stroke="#2a2a2a" stroke-width="0.08">IL6</text>
<text x="245.84" y="282.36" font-size="7.9" text-anchor="end" fill="#2a2a2a" textLength="13.00" lengthAdjust="spacingAndGlyphs" stroke="#2a2a2a" stroke-width="0.08">CRP</text>
<text x="258.82" y="295.31" font-size="7.9" text-anchor="end" fill="#2a2a2a" textLength="15.20" lengthAdjust="spacingAndGlyphs" stroke="#2a2a2a" stroke-width="0.08">PTX3</text>
<text x="64.19" y="75.80" font-size="8.2" text-anchor="start" fill="#2a2a2a" textLength="12.50" lengthAdjust="spacingAndGlyphs" transform="rotate(-45 64.19 75.80)" stroke="#2a2a2a" stroke-width="0.08">CD4</text>
<text x="77.16" y="75.80" font-size="8.2" text-anchor="start" fill="#2a2a2a" textLength="12.00" lengthAdjust="spacingAndGlyphs" transform="rotate(-45 77.16 75.80)" stroke="#2a2a2a" stroke-width="0.08">Hgb</text>
<text x="90.14" y="75.80" font-size="8.2" text-anchor="start" fill="#2a2a2a" textLength="7.00" lengthAdjust="spacingAndGlyphs" transform="rotate(-45 90.14 75.80)" stroke="#2a2a2a" stroke-width="0.08">Plt</text>
<text x="103.12" y="75.80" font-size="8.2" text-anchor="start" fill="#2a2a2a" textLength="12.50" lengthAdjust="spacingAndGlyphs" transform="rotate(-45 103.12 75.80)" stroke="#2a2a2a" stroke-width="0.08">IL13</text>
<text x="116.09" y="75.80" font-size="8.2" text-anchor="start" fill="#2a2a2a" textLength="75.00" lengthAdjust="spacingAndGlyphs" transform="rotate(-45 116.09 75.80)" stroke="#2a2a2a" stroke-width="0.08">FLICA+Speck+monocytes</text>
<text x="129.07" y="75.80" font-size="8.2" text-anchor="start" fill="#2a2a2a" textLength="38.75" lengthAdjust="spacingAndGlyphs" transform="rotate(-45 129.07 75.80)" stroke="#2a2a2a" stroke-width="0.08">FLICA (gMFI)</text>
<text x="142.04" y="75.80" font-size="8.2" text-anchor="start" fill="#2a2a2a" textLength="20.40" lengthAdjust="spacingAndGlyphs" transform="rotate(-45 142.04 75.80)" stroke="#2a2a2a" stroke-width="0.08">CD163</text>
<text x="155.02" y="75.80" font-size="8.2" text-anchor="start" fill="#2a2a2a" textLength="38.10" lengthAdjust="spacingAndGlyphs" transform="rotate(-45 155.02 75.80)" stroke="#2a2a2a" stroke-width="0.08">HIV viral load</text>
<text x="168.00" y="75.80" font-size="8.2" text-anchor="start" fill="#2a2a2a" textLength="13.80" lengthAdjust="spacingAndGlyphs" transform="rotate(-45 168.00 75.80)" stroke="#2a2a2a" stroke-width="0.08">IFNg</text>
<text x="180.97" y="75.80" font-size="8.2" text-anchor="start" fill="#2a2a2a" textLength="15.40" lengthAdjust="spacingAndGlyphs" transform="rotate(-45 180.97 75.80)" stroke="#2a2a2a" stroke-width="0.08">TNFa</text>
<text x="193.95" y="75.80" font-size="8.2" text-anchor="start" fill="#2a2a2a" textLength="12.30" lengthAdjust="spacingAndGlyphs" transform="rotate(-45 193.95 75.80)" stroke="#2a2a2a" stroke-width="0.08">IL10</text>
<text x="206.92" y="75.80" font-size="8.2" text-anchor="start" fill="#2a2a2a" textLength="21.10" lengthAdjust="spacingAndGlyphs" transform="rotate(-45 206.92 75.80)" stroke="#2a2a2a" stroke-width="0.08">Ferritin</text>
<text x="219.90" y="75.80" font-size="8.2" text-anchor="start" fill="#2a2a2a" textLength="11.90" lengthAdjust="spacingAndGlyphs" transform="rotate(-45 219.90 75.80)" stroke="#2a2a2a" stroke-width="0.08">IL18</text>
<text x="232.88" y="75.80" font-size="8.2" text-anchor="start" fill="#2a2a2a" textLength="43.90" lengthAdjust="spacingAndGlyphs" transform="rotate(-45 232.88 75.80)" stroke="#2a2a2a" stroke-width="0.08">KSHV viral load</text>
<text x="245.85" y="75.80" font-size="8.2" text-anchor="start" fill="#2a2a2a" textLength="8.10" lengthAdjust="spacingAndGlyphs" transform="rotate(-45 245.85 75.80)" stroke="#2a2a2a" stroke-width="0.08">IL6</text>
<text x="258.83" y="75.80" font-size="8.2" text-anchor="start" fill="#2a2a2a" textLength="13.00" lengthAdjust="spacingAndGlyphs" transform="rotate(-45 258.83 75.80)" stroke="#2a2a2a" stroke-width="0.08">CRP</text>
<text x="271.80" y="75.80" font-size="8.2" text-anchor="start" fill="#2a2a2a" textLength="15.20" lengthAdjust="spacingAndGlyphs" transform="rotate(-45 271.80 75.80)" stroke="#2a2a2a" stroke-width="0.08">PTX3</text>
<defs><linearGradient id="cb" x1="0" y1="0" x2="0" y2="1">
<stop offset="0" stop-color="#e0262a"/>
<stop offset="0.05" stop-color="#e43624"/>
<stop offset="0.1" stop-color="#ea5a22"/>
<stop offset="0.15" stop-color="#ee7a20"/>
<stop offset="0.2" stop-color="#f29c20"/>
<stop offset="0.25" stop-color="#f4c020"/>
<stop offset="0.3" stop-color="#f6e024"/>
<stop offset="0.35" stop-color="#f5ea5a"/>
<stop offset="0.4" stop-color="#f6f096"/>
<stop offset="0.45" stop-color="#f8f6cc"/>
<stop offset="0.5" stop-color="#ffffff"/>
<stop offset="0.55" stop-color="#bfe4f4"/>
<stop offset="0.6" stop-color="#7ecbea"/>
<stop offset="0.65" stop-color="#38ade0"/>
<stop offset="0.7" stop-color="#2a8ccc"/>
<stop offset="0.75" stop-color="#2a60b0"/>
<stop offset="0.8" stop-color="#2a3c98"/>
<stop offset="0.85" stop-color="#2c2c88"/>
<stop offset="1.0" stop-color="#2a2a7e"/>
</linearGradient></defs>
<rect x="279.9" y="79.0" width="8.5" height="220.5" fill="url(#cb)" stroke="#4a4a4a" stroke-width="0.9"/>
<line x1="288.4" y1="79.00" x2="291.0" y2="79.00" stroke="#444" stroke-width="0.8"/>
<text x="293.80" y="81.30" font-size="6.3" text-anchor="start" fill="#444" >1</text>
<line x1="288.4" y1="101.05" x2="291.0" y2="101.05" stroke="#444" stroke-width="0.8"/>
<text x="293.80" y="103.35" font-size="6.3" text-anchor="start" fill="#444" >0.8</text>
<line x1="288.4" y1="123.10" x2="291.0" y2="123.10" stroke="#444" stroke-width="0.8"/>
<text x="293.80" y="125.40" font-size="6.3" text-anchor="start" fill="#444" >0.6</text>
<line x1="288.4" y1="145.15" x2="291.0" y2="145.15" stroke="#444" stroke-width="0.8"/>
<text x="293.80" y="147.45" font-size="6.3" text-anchor="start" fill="#444" >0.4</text>
<line x1="288.4" y1="167.20" x2="291.0" y2="167.20" stroke="#444" stroke-width="0.8"/>
<text x="293.80" y="169.50" font-size="6.3" text-anchor="start" fill="#444" >0.2</text>
<line x1="288.4" y1="189.25" x2="291.0" y2="189.25" stroke="#444" stroke-width="0.8"/>
<text x="293.80" y="191.55" font-size="6.3" text-anchor="start" fill="#444" >0</text>
<line x1="288.4" y1="211.30" x2="291.0" y2="211.30" stroke="#444" stroke-width="0.8"/>
<text x="293.80" y="213.60" font-size="6.3" text-anchor="start" fill="#444" >−0.2</text>
<line x1="288.4" y1="233.35" x2="291.0" y2="233.35" stroke="#444" stroke-width="0.8"/>
<text x="293.80" y="235.65" font-size="6.3" text-anchor="start" fill="#444" >−0.4</text>
<line x1="288.4" y1="255.40" x2="291.0" y2="255.40" stroke="#444" stroke-width="0.8"/>
<text x="293.80" y="257.70" font-size="6.3" text-anchor="start" fill="#444" >−0.6</text>
<line x1="288.4" y1="277.45" x2="291.0" y2="277.45" stroke="#444" stroke-width="0.8"/>
<text x="293.80" y="279.75" font-size="6.3" text-anchor="start" fill="#444" >−0.8</text>
<line x1="288.4" y1="299.50" x2="291.0" y2="299.50" stroke="#444" stroke-width="0.8"/>
<text x="293.80" y="301.80" font-size="6.3" text-anchor="start" fill="#444" >−1</text>
<text x="16.30" y="17.00" font-size="12.4" text-anchor="start" fill="#111" font-weight="bold" textLength="9.20" lengthAdjust="spacingAndGlyphs" stroke="#111" stroke-width="0.35">A</text>
<polygon points="393.70,62.20 397.28,61.76 400.87,61.32 404.45,60.88 408.03,60.44 411.62,59.99 415.20,59.54 418.78,59.09 422.37,58.63 425.95,58.16 429.53,57.69 433.12,57.21 436.70,56.72 440.28,56.21 443.87,55.69 447.45,55.15 451.03,54.58 454.62,53.97 458.20,53.32 461.78,52.61 465.37,51.83 468.95,50.97 472.53,50.02 476.12,48.99 479.70,47.89 483.28,46.72 486.87,45.50 490.45,44.24 494.03,42.95 497.62,41.64 501.20,40.30 501.20,50.90 497.62,51.42 494.03,51.97 490.45,52.54 486.87,53.14 483.28,53.78 479.70,54.47 476.12,55.23 472.53,56.06 468.95,56.97 465.37,57.97 461.78,59.05 458.20,60.20 454.62,61.41 451.03,62.66 447.45,63.95 443.87,65.27 440.28,66.61 436.70,67.96 433.12,69.33 429.53,70.71 425.95,72.10 422.37,73.49 418.78,74.89 415.20,76.30 411.62,77.71 408.03,79.12 404.45,80.54 400.87,81.96 397.28,83.38 393.70,84.80" fill="#f2dabe"/>
<line x1="393.7" y1="73.5" x2="501.2" y2="45.6" stroke="#c07836" stroke-width="1"/>
<circle cx="486.9" cy="15.3" r="1.8" fill="#e08a30" fill-opacity="0.38"/><circle cx="486.9" cy="15.3" r="1.1" fill="#7a4e28"/>
<circle cx="492.6" cy="18.5" r="1.8" fill="#e08a30" fill-opacity="0.38"/><circle cx="492.6" cy="18.5" r="1.1" fill="#7a4e28"/>
<circle cx="493.7" cy="27" r="1.8" fill="#e08a30" fill-opacity="0.38"/><circle cx="493.7" cy="27" r="1.1" fill="#7a4e28"/>
<circle cx="467" cy="40.9" r="1.8" fill="#e08a30" fill-opacity="0.38"/><circle cx="467" cy="40.9" r="1.1" fill="#7a4e28"/>
<circle cx="471.3" cy="41.3" r="1.8" fill="#e08a30" fill-opacity="0.38"/><circle cx="471.3" cy="41.3" r="1.1" fill="#7a4e28"/>
<circle cx="475.6" cy="45.2" r="1.8" fill="#e08a30" fill-opacity="0.38"/><circle cx="475.6" cy="45.2" r="1.1" fill="#7a4e28"/>
<circle cx="449.3" cy="49.2" r="1.8" fill="#e08a30" fill-opacity="0.38"/><circle cx="449.3" cy="49.2" r="1.1" fill="#7a4e28"/>
<circle cx="448.8" cy="50.5" r="1.8" fill="#e08a30" fill-opacity="0.38"/><circle cx="448.8" cy="50.5" r="1.1" fill="#7a4e28"/>
<circle cx="453.1" cy="52.6" r="1.8" fill="#e08a30" fill-opacity="0.38"/><circle cx="453.1" cy="52.6" r="1.1" fill="#7a4e28"/>
<circle cx="473.4" cy="49.4" r="1.8" fill="#e08a30" fill-opacity="0.38"/><circle cx="473.4" cy="49.4" r="1.1" fill="#7a4e28"/>
<circle cx="476.2" cy="51.6" r="1.8" fill="#e08a30" fill-opacity="0.38"/><circle cx="476.2" cy="51.6" r="1.1" fill="#7a4e28"/>
<circle cx="499.7" cy="49.9" r="1.8" fill="#e08a30" fill-opacity="0.38"/><circle cx="499.7" cy="49.9" r="1.1" fill="#7a4e28"/>
<circle cx="501.8" cy="52" r="1.8" fill="#e08a30" fill-opacity="0.38"/><circle cx="501.8" cy="52" r="1.1" fill="#7a4e28"/>
<circle cx="443.5" cy="55.6" r="1.8" fill="#e08a30" fill-opacity="0.38"/><circle cx="443.5" cy="55.6" r="1.1" fill="#7a4e28"/>
<circle cx="448.8" cy="55.2" r="1.8" fill="#e08a30" fill-opacity="0.38"/><circle cx="448.8" cy="55.2" r="1.1" fill="#7a4e28"/>
<circle cx="468.1" cy="55.6" r="1.8" fill="#e08a30" fill-opacity="0.38"/><circle cx="468.1" cy="55.6" r="1.1" fill="#7a4e28"/>
<circle cx="475.1" cy="56.9" r="1.8" fill="#e08a30" fill-opacity="0.38"/><circle cx="475.1" cy="56.9" r="1.1" fill="#7a4e28"/>
<circle cx="477.3" cy="54.8" r="1.8" fill="#e08a30" fill-opacity="0.38"/><circle cx="477.3" cy="54.8" r="1.1" fill="#7a4e28"/>
<circle cx="491.2" cy="55.9" r="1.8" fill="#e08a30" fill-opacity="0.38"/><circle cx="491.2" cy="55.9" r="1.1" fill="#7a4e28"/>
<circle cx="457.4" cy="59.5" r="1.8" fill="#e08a30" fill-opacity="0.38"/><circle cx="457.4" cy="59.5" r="1.1" fill="#7a4e28"/>
<circle cx="461.2" cy="59.5" r="1.8" fill="#e08a30" fill-opacity="0.38"/><circle cx="461.2" cy="59.5" r="1.1" fill="#7a4e28"/>
<circle cx="464.9" cy="59.5" r="1.8" fill="#e08a30" fill-opacity="0.38"/><circle cx="464.9" cy="59.5" r="1.1" fill="#7a4e28"/>
<circle cx="441.4" cy="61.6" r="1.8" fill="#e08a30" fill-opacity="0.38"/><circle cx="441.4" cy="61.6" r="1.1" fill="#7a4e28"/>
<circle cx="440.3" cy="63.8" r="1.8" fill="#e08a30" fill-opacity="0.38"/><circle cx="440.3" cy="63.8" r="1.1" fill="#7a4e28"/>
<circle cx="443.5" cy="63.8" r="1.8" fill="#e08a30" fill-opacity="0.38"/><circle cx="443.5" cy="63.8" r="1.1" fill="#7a4e28"/>
<circle cx="455.9" cy="62.7" r="1.8" fill="#e08a30" fill-opacity="0.38"/><circle cx="455.9" cy="62.7" r="1.1" fill="#7a4e28"/>
<circle cx="472.4" cy="63.1" r="1.8" fill="#e08a30" fill-opacity="0.38"/><circle cx="472.4" cy="63.1" r="1.1" fill="#7a4e28"/>
<circle cx="478.8" cy="62.7" r="1.8" fill="#e08a30" fill-opacity="0.38"/><circle cx="478.8" cy="62.7" r="1.1" fill="#7a4e28"/>
<circle cx="485.8" cy="60.6" r="1.8" fill="#e08a30" fill-opacity="0.38"/><circle cx="485.8" cy="60.6" r="1.1" fill="#7a4e28"/>
<circle cx="449.9" cy="64.8" r="1.8" fill="#e08a30" fill-opacity="0.38"/><circle cx="449.9" cy="64.8" r="1.1" fill="#7a4e28"/>
<circle cx="458" cy="65.9" r="1.8" fill="#e08a30" fill-opacity="0.38"/><circle cx="458" cy="65.9" r="1.1" fill="#7a4e28"/>
<circle cx="462.7" cy="67" r="1.8" fill="#e08a30" fill-opacity="0.38"/><circle cx="462.7" cy="67" r="1.1" fill="#7a4e28"/>
<circle cx="464.2" cy="65.9" r="1.8" fill="#e08a30" fill-opacity="0.38"/><circle cx="464.2" cy="65.9" r="1.1" fill="#7a4e28"/>
<circle cx="470.2" cy="66.3" r="1.8" fill="#e08a30" fill-opacity="0.38"/><circle cx="470.2" cy="66.3" r="1.1" fill="#7a4e28"/>
<circle cx="448.4" cy="67.6" r="1.8" fill="#e08a30" fill-opacity="0.38"/><circle cx="448.4" cy="67.6" r="1.1" fill="#7a4e28"/>
<circle cx="478.1" cy="67" r="1.8" fill="#e08a30" fill-opacity="0.38"/><circle cx="478.1" cy="67" r="1.1" fill="#7a4e28"/>
<circle cx="471.3" cy="67" r="1.8" fill="#e08a30" fill-opacity="0.38"/><circle cx="471.3" cy="67" r="1.1" fill="#7a4e28"/>
<circle cx="393.7" cy="66.4" r="1.8" fill="#e08a30" fill-opacity="0.38"/><circle cx="393.7" cy="66.4" r="1.1" fill="#7a4e28"/>
<circle cx="403.8" cy="66.1" r="1.8" fill="#e08a30" fill-opacity="0.38"/><circle cx="403.8" cy="66.1" r="1.1" fill="#7a4e28"/>
<circle cx="425.4" cy="60.7" r="1.8" fill="#e08a30" fill-opacity="0.38"/><circle cx="425.4" cy="60.7" r="1.1" fill="#7a4e28"/>
<path d="M388.4,12.5 V88.6 H506.7" stroke="#161616" stroke-width="1.1" fill="none"/>
<line x1="385.4" y1="18.9" x2="388.4" y2="18.9" stroke="#1e1e1e" stroke-width="0.9"/>
<text x="382.20" y="21.20" font-size="6.5" text-anchor="end" fill="#333" textLength="17.10" lengthAdjust="spacingAndGlyphs" >15000</text>
<line x1="385.4" y1="36.0" x2="388.4" y2="36.0" stroke="#1e1e1e" stroke-width="0.9"/>
<text x="382.20" y="38.30" font-size="6.5" text-anchor="end" fill="#333" textLength="17.10" lengthAdjust="spacingAndGlyphs" >10000</text>
<line x1="385.4" y1="53.1" x2="388.4" y2="53.1" stroke="#1e1e1e" stroke-width="0.9"/>
<text x="382.20" y="55.40" font-size="6.5" text-anchor="end" fill="#333" textLength="13.70" lengthAdjust="spacingAndGlyphs" >5000</text>
<line x1="385.4" y1="69.9" x2="388.4" y2="69.9" stroke="#1e1e1e" stroke-width="0.9"/>
<text x="382.20" y="72.20" font-size="6.5" text-anchor="end" fill="#333" textLength="3.40" lengthAdjust="spacingAndGlyphs" >0</text>
<line x1="385.4" y1="86.9" x2="388.4" y2="86.9" stroke="#1e1e1e" stroke-width="0.9"/>
<text x="382.20" y="89.20" font-size="6.5" text-anchor="end" fill="#333" textLength="18.00" lengthAdjust="spacingAndGlyphs" >−5000</text>
<line x1="393.5" y1="88.6" x2="393.5" y2="91.6" stroke="#1e1e1e" stroke-width="0.9"/>
<text x="393.50" y="99.80" font-size="6.6" text-anchor="middle" fill="#333" textLength="17.20" lengthAdjust="spacingAndGlyphs" >10000</text>
<line x1="428.6" y1="88.6" x2="428.6" y2="91.6" stroke="#1e1e1e" stroke-width="0.9"/>
<text x="428.60" y="99.80" font-size="6.6" text-anchor="middle" fill="#333" textLength="17.20" lengthAdjust="spacingAndGlyphs" >15000</text>
<line x1="463.8" y1="88.6" x2="463.8" y2="91.6" stroke="#1e1e1e" stroke-width="0.9"/>
<text x="463.80" y="99.80" font-size="6.6" text-anchor="middle" fill="#333" textLength="17.20" lengthAdjust="spacingAndGlyphs" >20000</text>
<line x1="499.0" y1="88.6" x2="499.0" y2="91.6" stroke="#1e1e1e" stroke-width="0.9"/>
<text x="499.00" y="99.80" font-size="6.6" text-anchor="middle" fill="#333" textLength="17.20" lengthAdjust="spacingAndGlyphs" >25000</text>
<text x="447.80" y="111.70" font-size="8.4" text-anchor="middle" fill="#333" textLength="90.30" lengthAdjust="spacingAndGlyphs" stroke="#333" stroke-width="0.06">Caspase activity (FLICA [gMFI])</text>
<text x="359.60" y="50.40" font-size="7.8" text-anchor="middle" fill="#333" textLength="39.20" lengthAdjust="spacingAndGlyphs" transform="rotate(-90 359.60 50.40)" stroke="#333" stroke-width="0.06">IL18 (pg/mL)</text>
<text x="393.0" y="22.3" font-size="6.8" fill="#333" textLength="52.0" lengthAdjust="spacingAndGlyphs"><tspan font-style="italic">R</tspan> = 0.44, <tspan font-style="italic">P</tspan> = .004</text>
<text x="343.60" y="17.00" font-size="12.2" text-anchor="start" fill="#111" font-weight="bold" textLength="6.70" lengthAdjust="spacingAndGlyphs" stroke="#111" stroke-width="0.35">B</text>
<polygon points="393.70,168.20 397.48,168.02 401.27,167.83 405.05,167.65 408.83,167.46 412.62,167.26 416.40,167.06 420.18,166.86 423.97,166.64 427.75,166.42 431.53,166.19 435.32,165.95 439.10,165.69 442.88,165.42 446.67,165.11 450.45,164.78 454.23,164.41 458.02,163.98 461.80,163.49 465.58,162.91 469.37,162.24 473.15,161.46 476.93,160.56 480.72,159.53 484.50,158.40 488.28,157.18 492.07,155.90 495.85,154.57 499.63,153.21 503.42,151.81 507.20,150.40 507.20,165.80 503.42,165.98 499.63,166.18 495.85,166.41 492.07,166.67 488.28,166.99 484.50,167.36 480.72,167.82 476.93,168.39 473.15,169.08 469.37,169.89 465.58,170.82 461.80,171.83 458.02,172.93 454.23,174.10 450.45,175.32 446.67,176.58 442.88,177.87 439.10,179.19 435.32,180.52 431.53,181.87 427.75,183.24 423.97,184.61 420.18,185.99 416.40,187.38 412.62,188.77 408.83,190.17 405.05,191.57 401.27,192.98 397.48,194.39 393.70,195.80" fill="#f2dabe"/>
<line x1="393.7" y1="182.0" x2="507.2" y2="158.1" stroke="#c07836" stroke-width="1"/>
<circle cx="393.7" cy="167.7" r="1.8" fill="#e08a30" fill-opacity="0.38"/><circle cx="393.7" cy="167.7" r="1.1" fill="#7a4e28"/>
<circle cx="404.4" cy="170.9" r="1.8" fill="#e08a30" fill-opacity="0.38"/><circle cx="404.4" cy="170.9" r="1.1" fill="#7a4e28"/>
<circle cx="427.2" cy="185.9" r="1.8" fill="#e08a30" fill-opacity="0.38"/><circle cx="427.2" cy="185.9" r="1.1" fill="#7a4e28"/>
<circle cx="499.1" cy="126.5" r="1.8" fill="#e08a30" fill-opacity="0.38"/><circle cx="499.1" cy="126.5" r="1.1" fill="#7a4e28"/>
<circle cx="451.6" cy="148.9" r="1.8" fill="#e08a30" fill-opacity="0.38"/><circle cx="451.6" cy="148.9" r="1.1" fill="#7a4e28"/>
<circle cx="471.3" cy="147" r="1.8" fill="#e08a30" fill-opacity="0.38"/><circle cx="471.3" cy="147" r="1.1" fill="#7a4e28"/>
<circle cx="479.8" cy="149.5" r="1.8" fill="#e08a30" fill-opacity="0.38"/><circle cx="479.8" cy="149.5" r="1.1" fill="#7a4e28"/>
<circle cx="480.5" cy="153.4" r="1.8" fill="#e08a30" fill-opacity="0.38"/><circle cx="480.5" cy="153.4" r="1.1" fill="#7a4e28"/>
<circle cx="496.5" cy="152.1" r="1.8" fill="#e08a30" fill-opacity="0.38"/><circle cx="496.5" cy="152.1" r="1.1" fill="#7a4e28"/>
<circle cx="505" cy="147" r="1.8" fill="#e08a30" fill-opacity="0.38"/><circle cx="505" cy="147" r="1.1" fill="#7a4e28"/>
<circle cx="507.2" cy="146.3" r="1.8" fill="#e08a30" fill-opacity="0.38"/><circle cx="507.2" cy="146.3" r="1.1" fill="#7a4e28"/>
<circle cx="444.6" cy="160.6" r="1.8" fill="#e08a30" fill-opacity="0.38"/><circle cx="444.6" cy="160.6" r="1.1" fill="#7a4e28"/>
<circle cx="446.7" cy="160.6" r="1.8" fill="#e08a30" fill-opacity="0.38"/><circle cx="446.7" cy="160.6" r="1.1" fill="#7a4e28"/>
<circle cx="452.1" cy="161.9" r="1.8" fill="#e08a30" fill-opacity="0.38"/><circle cx="452.1" cy="161.9" r="1.1" fill="#7a4e28"/>
<circle cx="452.1" cy="163.8" r="1.8" fill="#e08a30" fill-opacity="0.38"/><circle cx="452.1" cy="163.8" r="1.1" fill="#7a4e28"/>
<circle cx="464.9" cy="159.1" r="1.8" fill="#e08a30" fill-opacity="0.38"/><circle cx="464.9" cy="159.1" r="1.1" fill="#7a4e28"/>
<circle cx="468.1" cy="161.9" r="1.8" fill="#e08a30" fill-opacity="0.38"/><circle cx="468.1" cy="161.9" r="1.1" fill="#7a4e28"/>
<circle cx="470.9" cy="158.1" r="1.8" fill="#e08a30" fill-opacity="0.38"/><circle cx="470.9" cy="158.1" r="1.1" fill="#7a4e28"/>
<circle cx="490.5" cy="158.7" r="1.8" fill="#e08a30" fill-opacity="0.38"/><circle cx="490.5" cy="158.7" r="1.1" fill="#7a4e28"/>
<circle cx="498" cy="156.6" r="1.8" fill="#e08a30" fill-opacity="0.38"/><circle cx="498" cy="156.6" r="1.1" fill="#7a4e28"/>
<circle cx="477.7" cy="164.1" r="1.8" fill="#e08a30" fill-opacity="0.38"/><circle cx="477.7" cy="164.1" r="1.1" fill="#7a4e28"/>
<circle cx="483" cy="164.5" r="1.8" fill="#e08a30" fill-opacity="0.38"/><circle cx="483" cy="164.5" r="1.1" fill="#7a4e28"/>
<circle cx="492.2" cy="164" r="1.8" fill="#e08a30" fill-opacity="0.38"/><circle cx="492.2" cy="164" r="1.1" fill="#7a4e28"/>
<circle cx="481.5" cy="167.7" r="1.8" fill="#e08a30" fill-opacity="0.38"/><circle cx="481.5" cy="167.7" r="1.1" fill="#7a4e28"/>
<circle cx="475.1" cy="169.2" r="1.8" fill="#e08a30" fill-opacity="0.38"/><circle cx="475.1" cy="169.2" r="1.1" fill="#7a4e28"/>
<circle cx="443.1" cy="172.6" r="1.8" fill="#e08a30" fill-opacity="0.38"/><circle cx="443.1" cy="172.6" r="1.1" fill="#7a4e28"/>
<circle cx="446.7" cy="174.1" r="1.8" fill="#e08a30" fill-opacity="0.38"/><circle cx="446.7" cy="174.1" r="1.1" fill="#7a4e28"/>
<circle cx="459.5" cy="172" r="1.8" fill="#e08a30" fill-opacity="0.38"/><circle cx="459.5" cy="172" r="1.1" fill="#7a4e28"/>
<circle cx="461.2" cy="175.8" r="1.8" fill="#e08a30" fill-opacity="0.38"/><circle cx="461.2" cy="175.8" r="1.1" fill="#7a4e28"/>
<circle cx="477.3" cy="175.2" r="1.8" fill="#e08a30" fill-opacity="0.38"/><circle cx="477.3" cy="175.2" r="1.1" fill="#7a4e28"/>
<circle cx="480.5" cy="175.2" r="1.8" fill="#e08a30" fill-opacity="0.38"/><circle cx="480.5" cy="175.2" r="1.1" fill="#7a4e28"/>
<circle cx="483" cy="173.7" r="1.8" fill="#e08a30" fill-opacity="0.38"/><circle cx="483" cy="173.7" r="1.1" fill="#7a4e28"/>
<circle cx="446.3" cy="179.9" r="1.8" fill="#e08a30" fill-opacity="0.38"/><circle cx="446.3" cy="179.9" r="1.1" fill="#7a4e28"/>
<circle cx="452.1" cy="180.5" r="1.8" fill="#e08a30" fill-opacity="0.38"/><circle cx="452.1" cy="180.5" r="1.1" fill="#7a4e28"/>
<circle cx="453.1" cy="180.9" r="1.8" fill="#e08a30" fill-opacity="0.38"/><circle cx="453.1" cy="180.9" r="1.1" fill="#7a4e28"/>
<circle cx="456.3" cy="179.4" r="1.8" fill="#e08a30" fill-opacity="0.38"/><circle cx="456.3" cy="179.4" r="1.1" fill="#7a4e28"/>
<circle cx="465.9" cy="183.1" r="1.8" fill="#e08a30" fill-opacity="0.38"/><circle cx="465.9" cy="183.1" r="1.1" fill="#7a4e28"/>
<circle cx="475.1" cy="185.4" r="1.8" fill="#e08a30" fill-opacity="0.38"/><circle cx="475.1" cy="185.4" r="1.1" fill="#7a4e28"/>
<circle cx="476.6" cy="186.3" r="1.8" fill="#e08a30" fill-opacity="0.38"/><circle cx="476.6" cy="186.3" r="1.1" fill="#7a4e28"/>
<circle cx="475.1" cy="189.1" r="1.8" fill="#e08a30" fill-opacity="0.38"/><circle cx="475.1" cy="189.1" r="1.1" fill="#7a4e28"/>
<circle cx="474.5" cy="191.2" r="1.8" fill="#e08a30" fill-opacity="0.38"/><circle cx="474.5" cy="191.2" r="1.1" fill="#7a4e28"/>
<path d="M388.4,123.9 V198.5 H513.0" stroke="#161616" stroke-width="1.1" fill="none"/>
<line x1="385.4" y1="135.6" x2="388.4" y2="135.6" stroke="#1e1e1e" stroke-width="0.9"/>
<text x="382.20" y="137.90" font-size="6.5" text-anchor="end" fill="#333" textLength="10.30" lengthAdjust="spacingAndGlyphs" >100</text>
<line x1="385.4" y1="159.8" x2="388.4" y2="159.8" stroke="#1e1e1e" stroke-width="0.9"/>
<text x="382.20" y="162.10" font-size="6.5" text-anchor="end" fill="#333" textLength="6.90" lengthAdjust="spacingAndGlyphs" >10</text>
<line x1="385.4" y1="184.1" x2="388.4" y2="184.1" stroke="#1e1e1e" stroke-width="0.9"/>
<text x="382.20" y="186.40" font-size="6.5" text-anchor="end" fill="#333" textLength="3.40" lengthAdjust="spacingAndGlyphs" >1</text>
<line x1="393.5" y1="198.5" x2="393.5" y2="201.5" stroke="#1e1e1e" stroke-width="0.9"/>
<text x="393.50" y="211.30" font-size="6.6" text-anchor="middle" fill="#333" textLength="17.20" lengthAdjust="spacingAndGlyphs" >10000</text>
<line x1="430.7" y1="198.5" x2="430.7" y2="201.5" stroke="#1e1e1e" stroke-width="0.9"/>
<text x="430.70" y="211.30" font-size="6.6" text-anchor="middle" fill="#333" textLength="17.20" lengthAdjust="spacingAndGlyphs" >15000</text>
<line x1="467.7" y1="198.5" x2="467.7" y2="201.5" stroke="#1e1e1e" stroke-width="0.9"/>
<text x="467.70" y="211.30" font-size="6.6" text-anchor="middle" fill="#333" textLength="17.20" lengthAdjust="spacingAndGlyphs" >20000</text>
<line x1="504.6" y1="198.5" x2="504.6" y2="201.5" stroke="#1e1e1e" stroke-width="0.9"/>
<text x="504.60" y="211.30" font-size="6.6" text-anchor="middle" fill="#333" textLength="17.20" lengthAdjust="spacingAndGlyphs" >25000</text>
<text x="451.40" y="223.60" font-size="8.4" text-anchor="middle" fill="#333" textLength="90.30" lengthAdjust="spacingAndGlyphs" stroke="#333" stroke-width="0.06">Caspase activity (FLICA [gMFI])</text>
<text x="368.00" y="162.60" font-size="7.8" text-anchor="middle" fill="#333" textLength="37.40" lengthAdjust="spacingAndGlyphs" transform="rotate(-90 368.00 162.60)" stroke="#333" stroke-width="0.06">IL6 (pg/mL)</text>
<text x="393.0" y="133.0" font-size="6.8" fill="#333" textLength="52.0" lengthAdjust="spacingAndGlyphs"><tspan font-style="italic">R</tspan> = 0.37, <tspan font-style="italic">P</tspan> = .017</text>
<text x="342.90" y="130.00" font-size="12.2" text-anchor="start" fill="#111" font-weight="bold" textLength="7.50" lengthAdjust="spacingAndGlyphs" stroke="#111" stroke-width="0.35">C</text>
<polygon points="393.70,276.60 397.28,276.36 400.87,276.12 404.45,275.87 408.03,275.62 411.62,275.37 415.20,275.11 418.78,274.85 422.37,274.58 425.95,274.30 429.53,274.00 433.12,273.70 436.70,273.38 440.28,273.04 443.87,272.66 447.45,272.25 451.03,271.80 454.62,271.27 458.20,270.67 461.78,269.96 465.37,269.13 468.95,268.17 472.53,267.07 476.12,265.84 479.70,264.52 483.28,263.12 486.87,261.66 490.45,260.16 494.03,258.63 497.62,257.07 501.20,255.50 501.20,272.10 497.62,272.35 494.03,272.62 490.45,272.92 486.87,273.25 483.28,273.62 479.70,274.04 476.12,274.55 472.53,275.15 468.95,275.87 465.37,276.74 461.78,277.73 458.20,278.85 454.62,280.07 451.03,281.38 447.45,282.75 443.87,284.16 440.28,285.62 436.70,287.10 433.12,288.61 429.53,290.13 425.95,291.66 422.37,293.21 418.78,294.77 415.20,296.33 411.62,297.90 408.03,299.47 404.45,301.05 400.87,302.63 397.28,304.21 393.70,305.80" fill="#f2dabe"/>
<line x1="393.7" y1="291.2" x2="501.2" y2="263.8" stroke="#c07836" stroke-width="1"/>
<circle cx="393.7" cy="290.5" r="1.8" fill="#e08a30" fill-opacity="0.38"/><circle cx="393.7" cy="290.5" r="1.1" fill="#7a4e28"/>
<circle cx="403.7" cy="284.1" r="1.8" fill="#e08a30" fill-opacity="0.38"/><circle cx="403.7" cy="284.1" r="1.1" fill="#7a4e28"/>
<circle cx="425.5" cy="276.2" r="1.8" fill="#e08a30" fill-opacity="0.38"/><circle cx="425.5" cy="276.2" r="1.1" fill="#7a4e28"/>
<circle cx="476" cy="237.1" r="1.8" fill="#e08a30" fill-opacity="0.38"/><circle cx="476" cy="237.1" r="1.1" fill="#7a4e28"/>
<circle cx="501.2" cy="244.6" r="1.8" fill="#e08a30" fill-opacity="0.38"/><circle cx="501.2" cy="244.6" r="1.1" fill="#7a4e28"/>
<circle cx="499.5" cy="246.7" r="1.8" fill="#e08a30" fill-opacity="0.38"/><circle cx="499.5" cy="246.7" r="1.1" fill="#7a4e28"/>
<circle cx="493.1" cy="249.9" r="1.8" fill="#e08a30" fill-opacity="0.38"/><circle cx="493.1" cy="249.9" r="1.1" fill="#7a4e28"/>
<circle cx="486.7" cy="254.2" r="1.8" fill="#e08a30" fill-opacity="0.38"/><circle cx="486.7" cy="254.2" r="1.1" fill="#7a4e28"/>
<circle cx="443.1" cy="255.3" r="1.8" fill="#e08a30" fill-opacity="0.38"/><circle cx="443.1" cy="255.3" r="1.1" fill="#7a4e28"/>
<circle cx="448.8" cy="253.8" r="1.8" fill="#e08a30" fill-opacity="0.38"/><circle cx="448.8" cy="253.8" r="1.1" fill="#7a4e28"/>
<circle cx="448.8" cy="262.1" r="1.8" fill="#e08a30" fill-opacity="0.38"/><circle cx="448.8" cy="262.1" r="1.1" fill="#7a4e28"/>
<circle cx="470.9" cy="257" r="1.8" fill="#e08a30" fill-opacity="0.38"/><circle cx="470.9" cy="257" r="1.1" fill="#7a4e28"/>
<circle cx="478.1" cy="256.3" r="1.8" fill="#e08a30" fill-opacity="0.38"/><circle cx="478.1" cy="256.3" r="1.1" fill="#7a4e28"/>
<circle cx="475.6" cy="260.6" r="1.8" fill="#e08a30" fill-opacity="0.38"/><circle cx="475.6" cy="260.6" r="1.1" fill="#7a4e28"/>
<circle cx="491.2" cy="260.6" r="1.8" fill="#e08a30" fill-opacity="0.38"/><circle cx="491.2" cy="260.6" r="1.1" fill="#7a4e28"/>
<circle cx="461.2" cy="268.1" r="1.8" fill="#e08a30" fill-opacity="0.38"/><circle cx="461.2" cy="268.1" r="1.1" fill="#7a4e28"/>
<circle cx="464.9" cy="269.1" r="1.8" fill="#e08a30" fill-opacity="0.38"/><circle cx="464.9" cy="269.1" r="1.1" fill="#7a4e28"/>
<circle cx="467.4" cy="268.1" r="1.8" fill="#e08a30" fill-opacity="0.38"/><circle cx="467.4" cy="268.1" r="1.1" fill="#7a4e28"/>
<circle cx="456.3" cy="270.6" r="1.8" fill="#e08a30" fill-opacity="0.38"/><circle cx="456.3" cy="270.6" r="1.1" fill="#7a4e28"/>
<circle cx="471.3" cy="269.6" r="1.8" fill="#e08a30" fill-opacity="0.38"/><circle cx="471.3" cy="269.6" r="1.1" fill="#7a4e28"/>
<circle cx="475.1" cy="266.6" r="1.8" fill="#e08a30" fill-opacity="0.38"/><circle cx="475.1" cy="266.6" r="1.1" fill="#7a4e28"/>
<circle cx="473.4" cy="271.3" r="1.8" fill="#e08a30" fill-opacity="0.38"/><circle cx="473.4" cy="271.3" r="1.1" fill="#7a4e28"/>
<circle cx="453.1" cy="274.9" r="1.8" fill="#e08a30" fill-opacity="0.38"/><circle cx="453.1" cy="274.9" r="1.1" fill="#7a4e28"/>
<circle cx="464.9" cy="274.5" r="1.8" fill="#e08a30" fill-opacity="0.38"/><circle cx="464.9" cy="274.5" r="1.1" fill="#7a4e28"/>
<circle cx="473" cy="274.5" r="1.8" fill="#e08a30" fill-opacity="0.38"/><circle cx="473" cy="274.5" r="1.1" fill="#7a4e28"/>
<circle cx="470.2" cy="277.7" r="1.8" fill="#e08a30" fill-opacity="0.38"/><circle cx="470.2" cy="277.7" r="1.1" fill="#7a4e28"/>
<circle cx="443.5" cy="280.5" r="1.8" fill="#e08a30" fill-opacity="0.38"/><circle cx="443.5" cy="280.5" r="1.1" fill="#7a4e28"/>
<circle cx="448.8" cy="282" r="1.8" fill="#e08a30" fill-opacity="0.38"/><circle cx="448.8" cy="282" r="1.1" fill="#7a4e28"/>
<circle cx="449.5" cy="284.1" r="1.8" fill="#e08a30" fill-opacity="0.38"/><circle cx="449.5" cy="284.1" r="1.1" fill="#7a4e28"/>
<circle cx="448.2" cy="283.7" r="1.8" fill="#e08a30" fill-opacity="0.38"/><circle cx="448.2" cy="283.7" r="1.1" fill="#7a4e28"/>
<circle cx="441.4" cy="285.8" r="1.8" fill="#e08a30" fill-opacity="0.38"/><circle cx="441.4" cy="285.8" r="1.1" fill="#7a4e28"/>
<circle cx="439.9" cy="286.7" r="1.8" fill="#e08a30" fill-opacity="0.38"/><circle cx="439.9" cy="286.7" r="1.1" fill="#7a4e28"/>
<circle cx="457.8" cy="284.7" r="1.8" fill="#e08a30" fill-opacity="0.38"/><circle cx="457.8" cy="284.7" r="1.1" fill="#7a4e28"/>
<circle cx="467.4" cy="283" r="1.8" fill="#e08a30" fill-opacity="0.38"/><circle cx="467.4" cy="283" r="1.1" fill="#7a4e28"/>
<circle cx="476.6" cy="282.6" r="1.8" fill="#e08a30" fill-opacity="0.38"/><circle cx="476.6" cy="282.6" r="1.1" fill="#7a4e28"/>
<circle cx="478.1" cy="287.9" r="1.8" fill="#e08a30" fill-opacity="0.38"/><circle cx="478.1" cy="287.9" r="1.1" fill="#7a4e28"/>
<circle cx="485.6" cy="286.9" r="1.8" fill="#e08a30" fill-opacity="0.38"/><circle cx="485.6" cy="286.9" r="1.1" fill="#7a4e28"/>
<circle cx="470.9" cy="292.2" r="1.8" fill="#e08a30" fill-opacity="0.38"/><circle cx="470.9" cy="292.2" r="1.1" fill="#7a4e28"/>
<circle cx="462.3" cy="294.8" r="1.8" fill="#e08a30" fill-opacity="0.38"/><circle cx="462.3" cy="294.8" r="1.1" fill="#7a4e28"/>
<circle cx="444.1" cy="296.9" r="1.8" fill="#e08a30" fill-opacity="0.38"/><circle cx="444.1" cy="296.9" r="1.1" fill="#7a4e28"/>
<circle cx="493.7" cy="304.4" r="1.8" fill="#e08a30" fill-opacity="0.38"/><circle cx="493.7" cy="304.4" r="1.1" fill="#7a4e28"/>
<path d="M388.5,233.9 V310.4 H506.7" stroke="#161616" stroke-width="1.1" fill="none"/>
<line x1="385.5" y1="235.4" x2="388.5" y2="235.4" stroke="#1e1e1e" stroke-width="0.9"/>
<text x="382.30" y="237.70" font-size="6.5" text-anchor="end" fill="#333" textLength="17.10" lengthAdjust="spacingAndGlyphs" >10000</text>
<line x1="385.5" y1="262.7" x2="388.5" y2="262.7" stroke="#1e1e1e" stroke-width="0.9"/>
<text x="382.30" y="265.00" font-size="6.5" text-anchor="end" fill="#333" textLength="10.30" lengthAdjust="spacingAndGlyphs" >100</text>
<line x1="385.5" y1="290.1" x2="388.5" y2="290.1" stroke="#1e1e1e" stroke-width="0.9"/>
<text x="382.30" y="292.40" font-size="6.5" text-anchor="end" fill="#333" textLength="3.40" lengthAdjust="spacingAndGlyphs" >1</text>
<line x1="393.5" y1="310.4" x2="393.5" y2="313.4" stroke="#1e1e1e" stroke-width="0.9"/>
<text x="393.50" y="322.00" font-size="6.6" text-anchor="middle" fill="#333" textLength="17.20" lengthAdjust="spacingAndGlyphs" >10000</text>
<line x1="428.6" y1="310.4" x2="428.6" y2="313.4" stroke="#1e1e1e" stroke-width="0.9"/>
<text x="428.60" y="322.00" font-size="6.6" text-anchor="middle" fill="#333" textLength="17.20" lengthAdjust="spacingAndGlyphs" >15000</text>
<line x1="463.8" y1="310.4" x2="463.8" y2="313.4" stroke="#1e1e1e" stroke-width="0.9"/>
<text x="463.80" y="322.00" font-size="6.6" text-anchor="middle" fill="#333" textLength="17.20" lengthAdjust="spacingAndGlyphs" >20000</text>
<line x1="499.0" y1="310.4" x2="499.0" y2="313.4" stroke="#1e1e1e" stroke-width="0.9"/>
<text x="499.00" y="322.00" font-size="6.6" text-anchor="middle" fill="#333" textLength="17.20" lengthAdjust="spacingAndGlyphs" >25000</text>
<text x="447.80" y="334.40" font-size="8.4" text-anchor="middle" fill="#333" textLength="90.30" lengthAdjust="spacingAndGlyphs" stroke="#333" stroke-width="0.06">Caspase activity (FLICA [gMFI])</text>
<text x="360.00" y="271.80" font-size="7.8" text-anchor="middle" fill="#333" textLength="37.40" lengthAdjust="spacingAndGlyphs" transform="rotate(-90 360.00 271.80)" stroke="#333" stroke-width="0.06">IL10 (pg/mL)</text>
<text x="393.0" y="243.7" font-size="6.8" fill="#333" textLength="52.0" lengthAdjust="spacingAndGlyphs"><tspan font-style="italic">R</tspan> = 0.37, <tspan font-style="italic">P</tspan> = .017</text>
<text x="342.90" y="238.70" font-size="12.2" text-anchor="start" fill="#111" font-weight="bold" textLength="8.10" lengthAdjust="spacingAndGlyphs" stroke="#111" stroke-width="0.35">D</text>
<polygon points="65.60,396.60 69.19,396.38 72.77,396.16 76.36,395.94 79.95,395.72 83.53,395.49 87.12,395.26 90.71,395.02 94.29,394.78 97.88,394.54 101.47,394.28 105.05,394.02 108.64,393.74 112.23,393.44 115.81,393.13 119.40,392.78 122.99,392.39 126.57,391.94 130.16,391.41 133.75,390.75 137.33,389.95 140.92,388.95 144.51,387.73 148.09,386.30 151.68,384.72 155.27,383.02 158.85,381.25 162.44,379.43 166.03,377.58 169.61,375.70 173.20,373.80 173.20,392.60 169.61,392.78 166.03,392.98 162.44,393.21 158.85,393.47 155.27,393.78 151.68,394.16 148.09,394.66 144.51,395.31 140.92,396.17 137.33,397.25 133.75,398.53 130.16,399.95 126.57,401.50 122.99,403.13 119.40,404.82 115.81,406.55 112.23,408.32 108.64,410.10 105.05,411.90 101.47,413.72 97.88,415.54 94.29,417.38 90.71,419.22 87.12,421.06 83.53,422.91 79.95,424.76 76.36,426.62 72.77,428.48 69.19,430.34 65.60,432.20" fill="#f2dabe"/>
<line x1="65.6" y1="414.4" x2="173.2" y2="383.2" stroke="#c07836" stroke-width="1"/>
<circle cx="65.6" cy="387.3" r="1.8" fill="#e08a30" fill-opacity="0.38"/><circle cx="65.6" cy="387.3" r="1.1" fill="#7a4e28"/>
<circle cx="75.5" cy="422.1" r="1.8" fill="#e08a30" fill-opacity="0.38"/><circle cx="75.5" cy="422.1" r="1.1" fill="#7a4e28"/>
<circle cx="97.1" cy="422.1" r="1.8" fill="#e08a30" fill-opacity="0.38"/><circle cx="97.1" cy="422.1" r="1.1" fill="#7a4e28"/>
<circle cx="115.7" cy="422.1" r="1.8" fill="#e08a30" fill-opacity="0.38"/><circle cx="115.7" cy="422.1" r="1.1" fill="#7a4e28"/>
<circle cx="128" cy="422.1" r="1.8" fill="#e08a30" fill-opacity="0.38"/><circle cx="128" cy="422.1" r="1.1" fill="#7a4e28"/>
<circle cx="133.5" cy="422.1" r="1.8" fill="#e08a30" fill-opacity="0.38"/><circle cx="133.5" cy="422.1" r="1.1" fill="#7a4e28"/>
<circle cx="138.9" cy="422.1" r="1.8" fill="#e08a30" fill-opacity="0.38"/><circle cx="138.9" cy="422.1" r="1.1" fill="#7a4e28"/>
<circle cx="142.5" cy="422.1" r="1.8" fill="#e08a30" fill-opacity="0.38"/><circle cx="142.5" cy="422.1" r="1.1" fill="#7a4e28"/>
<circle cx="149.9" cy="422.1" r="1.8" fill="#e08a30" fill-opacity="0.38"/><circle cx="149.9" cy="422.1" r="1.1" fill="#7a4e28"/>
<circle cx="112.1" cy="405.1" r="1.8" fill="#e08a30" fill-opacity="0.38"/><circle cx="112.1" cy="405.1" r="1.1" fill="#7a4e28"/>
<circle cx="120.6" cy="367.9" r="1.8" fill="#e08a30" fill-opacity="0.38"/><circle cx="120.6" cy="367.9" r="1.1" fill="#7a4e28"/>
<circle cx="115.1" cy="384.3" r="1.8" fill="#e08a30" fill-opacity="0.38"/><circle cx="115.1" cy="384.3" r="1.1" fill="#7a4e28"/>
<circle cx="115.1" cy="392" r="1.8" fill="#e08a30" fill-opacity="0.38"/><circle cx="115.1" cy="392" r="1.1" fill="#7a4e28"/>
<circle cx="120.6" cy="393.4" r="1.8" fill="#e08a30" fill-opacity="0.38"/><circle cx="120.6" cy="393.4" r="1.1" fill="#7a4e28"/>
<circle cx="121.7" cy="386" r="1.8" fill="#e08a30" fill-opacity="0.38"/><circle cx="121.7" cy="386" r="1.1" fill="#7a4e28"/>
<circle cx="125.3" cy="392" r="1.8" fill="#e08a30" fill-opacity="0.38"/><circle cx="125.3" cy="392" r="1.1" fill="#7a4e28"/>
<circle cx="129.4" cy="381" r="1.8" fill="#e08a30" fill-opacity="0.38"/><circle cx="129.4" cy="381" r="1.1" fill="#7a4e28"/>
<circle cx="133.5" cy="379.7" r="1.8" fill="#e08a30" fill-opacity="0.38"/><circle cx="133.5" cy="379.7" r="1.1" fill="#7a4e28"/>
<circle cx="137" cy="381" r="1.8" fill="#e08a30" fill-opacity="0.38"/><circle cx="137" cy="381" r="1.1" fill="#7a4e28"/>
<circle cx="136.2" cy="392" r="1.8" fill="#e08a30" fill-opacity="0.38"/><circle cx="136.2" cy="392" r="1.1" fill="#7a4e28"/>
<circle cx="143" cy="390.6" r="1.8" fill="#e08a30" fill-opacity="0.38"/><circle cx="143" cy="390.6" r="1.1" fill="#7a4e28"/>
<circle cx="145.8" cy="392" r="1.8" fill="#e08a30" fill-opacity="0.38"/><circle cx="145.8" cy="392" r="1.1" fill="#7a4e28"/>
<circle cx="145.2" cy="385.2" r="1.8" fill="#e08a30" fill-opacity="0.38"/><circle cx="145.2" cy="385.2" r="1.1" fill="#7a4e28"/>
<circle cx="147.2" cy="390.1" r="1.8" fill="#e08a30" fill-opacity="0.38"/><circle cx="147.2" cy="390.1" r="1.1" fill="#7a4e28"/>
<circle cx="148.5" cy="387.9" r="1.8" fill="#e08a30" fill-opacity="0.38"/><circle cx="148.5" cy="387.9" r="1.1" fill="#7a4e28"/>
<circle cx="147.2" cy="402.4" r="1.8" fill="#e08a30" fill-opacity="0.38"/><circle cx="147.2" cy="402.4" r="1.1" fill="#7a4e28"/>
<circle cx="148" cy="372.3" r="1.8" fill="#e08a30" fill-opacity="0.38"/><circle cx="148" cy="372.3" r="1.1" fill="#7a4e28"/>
<circle cx="149.9" cy="378.9" r="1.8" fill="#e08a30" fill-opacity="0.38"/><circle cx="149.9" cy="378.9" r="1.1" fill="#7a4e28"/>
<circle cx="158.1" cy="381" r="1.8" fill="#e08a30" fill-opacity="0.38"/><circle cx="158.1" cy="381" r="1.1" fill="#7a4e28"/>
<circle cx="158.9" cy="377.5" r="1.8" fill="#e08a30" fill-opacity="0.38"/><circle cx="158.9" cy="377.5" r="1.1" fill="#7a4e28"/>
<circle cx="162.8" cy="382.4" r="1.8" fill="#e08a30" fill-opacity="0.38"/><circle cx="162.8" cy="382.4" r="1.1" fill="#7a4e28"/>
<circle cx="164.4" cy="367.4" r="1.8" fill="#e08a30" fill-opacity="0.38"/><circle cx="164.4" cy="367.4" r="1.1" fill="#7a4e28"/>
<circle cx="164.9" cy="363.3" r="1.8" fill="#e08a30" fill-opacity="0.38"/><circle cx="164.9" cy="363.3" r="1.1" fill="#7a4e28"/>
<circle cx="171.2" cy="383.8" r="1.8" fill="#e08a30" fill-opacity="0.38"/><circle cx="171.2" cy="383.8" r="1.1" fill="#7a4e28"/>
<circle cx="173.2" cy="377.8" r="1.8" fill="#e08a30" fill-opacity="0.38"/><circle cx="173.2" cy="377.8" r="1.1" fill="#7a4e28"/>
<path d="M60.3,359.9 V435.4 H178.0" stroke="#161616" stroke-width="1.1" fill="none"/>
<line x1="57.3" y1="368.4" x2="60.3" y2="368.4" stroke="#1e1e1e" stroke-width="0.9"/>
<text x="54.10" y="370.70" font-size="6.5" text-anchor="end" fill="#333" textLength="17.50" lengthAdjust="spacingAndGlyphs" >1e+06</text>
<line x1="57.3" y1="386.5" x2="60.3" y2="386.5" stroke="#1e1e1e" stroke-width="0.9"/>
<text x="54.10" y="388.80" font-size="6.5" text-anchor="end" fill="#333" textLength="17.50" lengthAdjust="spacingAndGlyphs" >1e+04</text>
<line x1="57.3" y1="404.4" x2="60.3" y2="404.4" stroke="#1e1e1e" stroke-width="0.9"/>
<text x="54.10" y="406.70" font-size="6.5" text-anchor="end" fill="#333" textLength="17.50" lengthAdjust="spacingAndGlyphs" >1e+02</text>
<line x1="57.3" y1="422.2" x2="60.3" y2="422.2" stroke="#1e1e1e" stroke-width="0.9"/>
<text x="54.10" y="424.50" font-size="6.5" text-anchor="end" fill="#333" textLength="17.50" lengthAdjust="spacingAndGlyphs" >1e+00</text>
<line x1="65.6" y1="435.4" x2="65.6" y2="438.4" stroke="#1e1e1e" stroke-width="0.9"/>
<text x="65.60" y="447.20" font-size="6.6" text-anchor="middle" fill="#333" textLength="17.20" lengthAdjust="spacingAndGlyphs" >10000</text>
<line x1="100.7" y1="435.4" x2="100.7" y2="438.4" stroke="#1e1e1e" stroke-width="0.9"/>
<text x="100.70" y="447.20" font-size="6.6" text-anchor="middle" fill="#333" textLength="17.20" lengthAdjust="spacingAndGlyphs" >15000</text>
<line x1="135.9" y1="435.4" x2="135.9" y2="438.4" stroke="#1e1e1e" stroke-width="0.9"/>
<text x="135.90" y="447.20" font-size="6.6" text-anchor="middle" fill="#333" textLength="17.20" lengthAdjust="spacingAndGlyphs" >20000</text>
<line x1="171.0" y1="435.4" x2="171.0" y2="438.4" stroke="#1e1e1e" stroke-width="0.9"/>
<text x="171.00" y="447.20" font-size="6.6" text-anchor="middle" fill="#333" textLength="17.20" lengthAdjust="spacingAndGlyphs" >25000</text>
<text x="119.80" y="459.20" font-size="8.4" text-anchor="middle" fill="#333" textLength="90.30" lengthAdjust="spacingAndGlyphs" stroke="#333" stroke-width="0.06">Caspase activity (FLICA [gMFI])</text>
<text x="20.80" y="396.40" font-size="8.8" text-anchor="middle" fill="#333" textLength="42.70" lengthAdjust="spacingAndGlyphs" transform="rotate(-90 20.80 396.40)" stroke="#333" stroke-width="0.06">KSHV viral load</text>
<text x="29.40" y="395.50" font-size="8.8" text-anchor="middle" fill="#333" textLength="66.30" lengthAdjust="spacingAndGlyphs" transform="rotate(-90 29.40 395.50)" stroke="#333" stroke-width="0.06">(copies/million PBMCs)</text>
<text x="62.0" y="369.7" font-size="6.8" fill="#333" textLength="55.0" lengthAdjust="spacingAndGlyphs"><tspan font-style="italic">R</tspan> = 0.46, <tspan font-style="italic">P</tspan> = .0033</text>
<text x="7.90" y="355.00" font-size="12.2" text-anchor="start" fill="#111" font-weight="bold" textLength="6.00" lengthAdjust="spacingAndGlyphs" stroke="#111" stroke-width="0.35">E</text>
<polygon points="237.00,408.00 240.58,407.36 244.17,406.72 247.75,406.08 251.33,405.42 254.92,404.77 258.50,404.10 262.08,403.42 265.67,402.73 269.25,402.02 272.83,401.28 276.42,400.52 280.00,399.73 283.58,398.88 287.17,397.98 290.75,397.00 294.33,395.94 297.92,394.78 301.50,393.51 305.08,392.13 308.67,390.68 312.25,389.15 315.83,387.58 319.42,385.96 323.00,384.32 326.58,382.66 330.17,380.98 333.75,379.28 337.33,377.58 340.92,375.87 344.50,374.15 344.50,391.85 340.92,392.44 337.33,393.03 333.75,393.64 330.17,394.25 326.58,394.88 323.00,395.52 319.42,396.18 315.83,396.88 312.25,397.61 308.67,398.39 305.08,399.24 301.50,400.17 297.92,401.21 294.33,402.36 290.75,403.60 287.17,404.93 283.58,406.33 280.00,407.79 276.42,409.30 272.83,410.85 269.25,412.42 265.67,414.02 262.08,415.63 258.50,417.26 254.92,418.90 251.33,420.55 247.75,422.20 244.17,423.86 240.58,425.53 237.00,427.20" fill="#f2dabe"/>
<line x1="237.0" y1="417.6" x2="344.5" y2="383.0" stroke="#c07836" stroke-width="1"/>
<circle cx="237" cy="393.2" r="1.8" fill="#e08a30" fill-opacity="0.38"/><circle cx="237" cy="393.2" r="1.1" fill="#7a4e28"/>
<circle cx="237" cy="401.9" r="1.8" fill="#e08a30" fill-opacity="0.38"/><circle cx="237" cy="401.9" r="1.1" fill="#7a4e28"/>
<circle cx="237" cy="408.4" r="1.8" fill="#e08a30" fill-opacity="0.38"/><circle cx="237" cy="408.4" r="1.1" fill="#7a4e28"/>
<circle cx="237" cy="413.5" r="1.8" fill="#e08a30" fill-opacity="0.38"/><circle cx="237" cy="413.5" r="1.1" fill="#7a4e28"/>
<circle cx="237" cy="418.1" r="1.8" fill="#e08a30" fill-opacity="0.38"/><circle cx="237" cy="418.1" r="1.1" fill="#7a4e28"/>
<circle cx="237" cy="421.5" r="1.8" fill="#e08a30" fill-opacity="0.38"/><circle cx="237" cy="421.5" r="1.1" fill="#7a4e28"/>
<circle cx="237" cy="423.4" r="1.8" fill="#e08a30" fill-opacity="0.38"/><circle cx="237" cy="423.4" r="1.1" fill="#7a4e28"/>
<circle cx="237" cy="426.2" r="1.8" fill="#e08a30" fill-opacity="0.38"/><circle cx="237" cy="426.2" r="1.1" fill="#7a4e28"/>
<circle cx="237" cy="428.9" r="1.8" fill="#e08a30" fill-opacity="0.38"/><circle cx="237" cy="428.9" r="1.1" fill="#7a4e28"/>
<circle cx="267.7" cy="412.8" r="1.8" fill="#e08a30" fill-opacity="0.38"/><circle cx="267.7" cy="412.8" r="1.1" fill="#7a4e28"/>
<circle cx="273.9" cy="394.3" r="1.8" fill="#e08a30" fill-opacity="0.38"/><circle cx="273.9" cy="394.3" r="1.1" fill="#7a4e28"/>
<circle cx="291.9" cy="377" r="1.8" fill="#e08a30" fill-opacity="0.38"/><circle cx="291.9" cy="377" r="1.1" fill="#7a4e28"/>
<circle cx="295.4" cy="380.5" r="1.8" fill="#e08a30" fill-opacity="0.38"/><circle cx="295.4" cy="380.5" r="1.1" fill="#7a4e28"/>
<circle cx="290.1" cy="384.6" r="1.8" fill="#e08a30" fill-opacity="0.38"/><circle cx="290.1" cy="384.6" r="1.1" fill="#7a4e28"/>
<circle cx="290.8" cy="385.8" r="1.8" fill="#e08a30" fill-opacity="0.38"/><circle cx="290.8" cy="385.8" r="1.1" fill="#7a4e28"/>
<circle cx="291.9" cy="388.5" r="1.8" fill="#e08a30" fill-opacity="0.38"/><circle cx="291.9" cy="388.5" r="1.1" fill="#7a4e28"/>
<circle cx="299.3" cy="392.7" r="1.8" fill="#e08a30" fill-opacity="0.38"/><circle cx="299.3" cy="392.7" r="1.1" fill="#7a4e28"/>
<circle cx="304.6" cy="385.1" r="1.8" fill="#e08a30" fill-opacity="0.38"/><circle cx="304.6" cy="385.1" r="1.1" fill="#7a4e28"/>
<circle cx="305.8" cy="392" r="1.8" fill="#e08a30" fill-opacity="0.38"/><circle cx="305.8" cy="392" r="1.1" fill="#7a4e28"/>
<circle cx="309.2" cy="393.2" r="1.8" fill="#e08a30" fill-opacity="0.38"/><circle cx="309.2" cy="393.2" r="1.1" fill="#7a4e28"/>
<circle cx="291.9" cy="409.3" r="1.8" fill="#e08a30" fill-opacity="0.38"/><circle cx="291.9" cy="409.3" r="1.1" fill="#7a4e28"/>
<circle cx="293.8" cy="410.5" r="1.8" fill="#e08a30" fill-opacity="0.38"/><circle cx="293.8" cy="410.5" r="1.1" fill="#7a4e28"/>
<circle cx="292.6" cy="418.8" r="1.8" fill="#e08a30" fill-opacity="0.38"/><circle cx="292.6" cy="418.8" r="1.1" fill="#7a4e28"/>
<circle cx="292.6" cy="421.5" r="1.8" fill="#e08a30" fill-opacity="0.38"/><circle cx="292.6" cy="421.5" r="1.1" fill="#7a4e28"/>
<circle cx="289.2" cy="431.9" r="1.8" fill="#e08a30" fill-opacity="0.38"/><circle cx="289.2" cy="431.9" r="1.1" fill="#7a4e28"/>
<circle cx="300" cy="423.8" r="1.8" fill="#e08a30" fill-opacity="0.38"/><circle cx="300" cy="423.8" r="1.1" fill="#7a4e28"/>
<circle cx="303" cy="415.8" r="1.8" fill="#e08a30" fill-opacity="0.38"/><circle cx="303" cy="415.8" r="1.1" fill="#7a4e28"/>
<circle cx="311.5" cy="421.1" r="1.8" fill="#e08a30" fill-opacity="0.38"/><circle cx="311.5" cy="421.1" r="1.1" fill="#7a4e28"/>
<circle cx="312.2" cy="400.3" r="1.8" fill="#e08a30" fill-opacity="0.38"/><circle cx="312.2" cy="400.3" r="1.1" fill="#7a4e28"/>
<circle cx="313.9" cy="400.8" r="1.8" fill="#e08a30" fill-opacity="0.38"/><circle cx="313.9" cy="400.8" r="1.1" fill="#7a4e28"/>
<circle cx="315.7" cy="408.2" r="1.8" fill="#e08a30" fill-opacity="0.38"/><circle cx="315.7" cy="408.2" r="1.1" fill="#7a4e28"/>
<circle cx="318" cy="362.7" r="1.8" fill="#e08a30" fill-opacity="0.38"/><circle cx="318" cy="362.7" r="1.1" fill="#7a4e28"/>
<circle cx="318" cy="387.4" r="1.8" fill="#e08a30" fill-opacity="0.38"/><circle cx="318" cy="387.4" r="1.1" fill="#7a4e28"/>
<circle cx="327.7" cy="386.2" r="1.8" fill="#e08a30" fill-opacity="0.38"/><circle cx="327.7" cy="386.2" r="1.1" fill="#7a4e28"/>
<circle cx="335.3" cy="391.5" r="1.8" fill="#e08a30" fill-opacity="0.38"/><circle cx="335.3" cy="391.5" r="1.1" fill="#7a4e28"/>
<circle cx="336.9" cy="363.8" r="1.8" fill="#e08a30" fill-opacity="0.38"/><circle cx="336.9" cy="363.8" r="1.1" fill="#7a4e28"/>
<circle cx="344.5" cy="367.8" r="1.8" fill="#e08a30" fill-opacity="0.38"/><circle cx="344.5" cy="367.8" r="1.1" fill="#7a4e28"/>
<path d="M231.6,359.4 V435.2 H349.7" stroke="#161616" stroke-width="1.1" fill="none"/>
<line x1="228.6" y1="373.2" x2="231.6" y2="373.2" stroke="#1e1e1e" stroke-width="0.9"/>
<text x="225.40" y="375.50" font-size="6.5" text-anchor="end" fill="#333" textLength="17.10" lengthAdjust="spacingAndGlyphs" >10000</text>
<line x1="228.6" y1="400.0" x2="231.6" y2="400.0" stroke="#1e1e1e" stroke-width="0.9"/>
<text x="225.40" y="402.30" font-size="6.5" text-anchor="end" fill="#333" textLength="13.70" lengthAdjust="spacingAndGlyphs" >3000</text>
<line x1="228.6" y1="424.8" x2="231.6" y2="424.8" stroke="#1e1e1e" stroke-width="0.9"/>
<text x="225.40" y="427.10" font-size="6.5" text-anchor="end" fill="#333" textLength="13.70" lengthAdjust="spacingAndGlyphs" >1000</text>
<line x1="253.6" y1="435.2" x2="253.6" y2="438.2" stroke="#1e1e1e" stroke-width="0.9"/>
<text x="253.60" y="447.20" font-size="6.6" text-anchor="middle" fill="#333" textLength="17.50" lengthAdjust="spacingAndGlyphs" >1e+01</text>
<line x1="286.2" y1="435.2" x2="286.2" y2="438.2" stroke="#1e1e1e" stroke-width="0.9"/>
<text x="286.20" y="447.20" font-size="6.6" text-anchor="middle" fill="#333" textLength="17.50" lengthAdjust="spacingAndGlyphs" >1e+03</text>
<line x1="318.8" y1="435.2" x2="318.8" y2="438.2" stroke="#1e1e1e" stroke-width="0.9"/>
<text x="318.80" y="447.20" font-size="6.6" text-anchor="middle" fill="#333" textLength="17.50" lengthAdjust="spacingAndGlyphs" >1e+05</text>
<text x="290.60" y="458.60" font-size="8.4" text-anchor="middle" fill="#333" textLength="117.00" lengthAdjust="spacingAndGlyphs" stroke="#333" stroke-width="0.06">KSHV viral load (copies/million PBMCs)</text>
<text x="202.80" y="397.30" font-size="7.8" text-anchor="middle" fill="#333" textLength="36.50" lengthAdjust="spacingAndGlyphs" transform="rotate(-90 202.80 397.30)" stroke="#333" stroke-width="0.06">IL8 (pg/mL)</text>
<text x="233.8" y="369.7" font-size="6.8" fill="#333" textLength="58.6" lengthAdjust="spacingAndGlyphs"><tspan font-style="italic">R</tspan> = 0.54, <tspan font-style="italic">P</tspan> = .00039</text>
<text x="189.80" y="355.00" font-size="12.2" text-anchor="start" fill="#111" font-weight="bold" textLength="6.10" lengthAdjust="spacingAndGlyphs" stroke="#111" stroke-width="0.35">F</text>
<polygon points="400.10,410.50 403.69,410.17 407.29,409.83 410.88,409.48 414.47,409.13 418.07,408.77 421.66,408.40 425.25,408.01 428.85,407.61 432.44,407.19 436.03,406.75 439.63,406.27 443.22,405.76 446.81,405.20 450.41,404.58 454.00,403.90 457.59,403.15 461.19,402.33 464.78,401.42 468.37,400.44 471.97,399.41 475.56,398.32 479.15,397.19 482.75,396.03 486.34,394.84 489.93,393.64 493.53,392.41 497.12,391.17 500.71,389.92 504.31,388.67 507.90,387.40 507.90,403.40 504.31,403.73 500.71,404.06 497.12,404.41 493.53,404.76 489.93,405.13 486.34,405.52 482.75,405.92 479.15,406.35 475.56,406.82 471.97,407.32 468.37,407.88 464.78,408.50 461.19,409.19 457.59,409.95 454.00,410.80 450.41,411.71 446.81,412.69 443.22,413.72 439.63,414.80 436.03,415.92 432.44,417.07 428.85,418.24 425.25,419.44 421.66,420.64 418.07,421.87 414.47,423.10 410.88,424.34 407.29,425.59 403.69,426.84 400.10,428.10" fill="#f2dabe"/>
<line x1="400.1" y1="419.3" x2="507.9" y2="395.4" stroke="#c07836" stroke-width="1"/>
<circle cx="400.1" cy="387" r="1.8" fill="#e08a30" fill-opacity="0.38"/><circle cx="400.1" cy="387" r="1.1" fill="#7a4e28"/>
<circle cx="400.1" cy="411.2" r="1.8" fill="#e08a30" fill-opacity="0.38"/><circle cx="400.1" cy="411.2" r="1.1" fill="#7a4e28"/>
<circle cx="400.1" cy="413" r="1.8" fill="#e08a30" fill-opacity="0.38"/><circle cx="400.1" cy="413" r="1.1" fill="#7a4e28"/>
<circle cx="400.1" cy="415" r="1.8" fill="#e08a30" fill-opacity="0.38"/><circle cx="400.1" cy="415" r="1.1" fill="#7a4e28"/>
<circle cx="400.1" cy="423.1" r="1.8" fill="#e08a30" fill-opacity="0.38"/><circle cx="400.1" cy="423.1" r="1.1" fill="#7a4e28"/>
<circle cx="400.1" cy="425.1" r="1.8" fill="#e08a30" fill-opacity="0.38"/><circle cx="400.1" cy="425.1" r="1.1" fill="#7a4e28"/>
<circle cx="400.1" cy="426.8" r="1.8" fill="#e08a30" fill-opacity="0.38"/><circle cx="400.1" cy="426.8" r="1.1" fill="#7a4e28"/>
<circle cx="400.1" cy="430.1" r="1.8" fill="#e08a30" fill-opacity="0.38"/><circle cx="400.1" cy="430.1" r="1.1" fill="#7a4e28"/>
<circle cx="431.6" cy="413" r="1.8" fill="#e08a30" fill-opacity="0.38"/><circle cx="431.6" cy="413" r="1.1" fill="#7a4e28"/>
<circle cx="437.9" cy="415.5" r="1.8" fill="#e08a30" fill-opacity="0.38"/><circle cx="437.9" cy="415.5" r="1.1" fill="#7a4e28"/>
<circle cx="451.7" cy="388.5" r="1.8" fill="#e08a30" fill-opacity="0.38"/><circle cx="451.7" cy="388.5" r="1.1" fill="#7a4e28"/>
<circle cx="458.8" cy="389.6" r="1.8" fill="#e08a30" fill-opacity="0.38"/><circle cx="458.8" cy="389.6" r="1.1" fill="#7a4e28"/>
<circle cx="467.6" cy="387" r="1.8" fill="#e08a30" fill-opacity="0.38"/><circle cx="467.6" cy="387" r="1.1" fill="#7a4e28"/>
<circle cx="471.9" cy="392.3" r="1.8" fill="#e08a30" fill-opacity="0.38"/><circle cx="471.9" cy="392.3" r="1.1" fill="#7a4e28"/>
<circle cx="481.2" cy="386" r="1.8" fill="#e08a30" fill-opacity="0.38"/><circle cx="481.2" cy="386" r="1.1" fill="#7a4e28"/>
<circle cx="490.8" cy="393.3" r="1.8" fill="#e08a30" fill-opacity="0.38"/><circle cx="490.8" cy="393.3" r="1.1" fill="#7a4e28"/>
<circle cx="500.4" cy="396.6" r="1.8" fill="#e08a30" fill-opacity="0.38"/><circle cx="500.4" cy="396.6" r="1.1" fill="#7a4e28"/>
<circle cx="508.4" cy="365.9" r="1.8" fill="#e08a30" fill-opacity="0.38"/><circle cx="508.4" cy="365.9" r="1.1" fill="#7a4e28"/>
<circle cx="454.2" cy="404.2" r="1.8" fill="#e08a30" fill-opacity="0.38"/><circle cx="454.2" cy="404.2" r="1.1" fill="#7a4e28"/>
<circle cx="456" cy="403.4" r="1.8" fill="#e08a30" fill-opacity="0.38"/><circle cx="456" cy="403.4" r="1.1" fill="#7a4e28"/>
<circle cx="468.6" cy="401.1" r="1.8" fill="#e08a30" fill-opacity="0.38"/><circle cx="468.6" cy="401.1" r="1.1" fill="#7a4e28"/>
<circle cx="475.2" cy="399.1" r="1.8" fill="#e08a30" fill-opacity="0.38"/><circle cx="475.2" cy="399.1" r="1.1" fill="#7a4e28"/>
<circle cx="477.7" cy="399.9" r="1.8" fill="#e08a30" fill-opacity="0.38"/><circle cx="477.7" cy="399.9" r="1.1" fill="#7a4e28"/>
<circle cx="479.4" cy="404.2" r="1.8" fill="#e08a30" fill-opacity="0.38"/><circle cx="479.4" cy="404.2" r="1.1" fill="#7a4e28"/>
<circle cx="481.2" cy="404.2" r="1.8" fill="#e08a30" fill-opacity="0.38"/><circle cx="481.2" cy="404.2" r="1.1" fill="#7a4e28"/>
<circle cx="498.3" cy="403.7" r="1.8" fill="#e08a30" fill-opacity="0.38"/><circle cx="498.3" cy="403.7" r="1.1" fill="#7a4e28"/>
<circle cx="455.5" cy="410" r="1.8" fill="#e08a30" fill-opacity="0.38"/><circle cx="455.5" cy="410" r="1.1" fill="#7a4e28"/>
<circle cx="463.1" cy="408.5" r="1.8" fill="#e08a30" fill-opacity="0.38"/><circle cx="463.1" cy="408.5" r="1.1" fill="#7a4e28"/>
<circle cx="468.6" cy="416" r="1.8" fill="#e08a30" fill-opacity="0.38"/><circle cx="468.6" cy="416" r="1.1" fill="#7a4e28"/>
<circle cx="475.2" cy="416.8" r="1.8" fill="#e08a30" fill-opacity="0.38"/><circle cx="475.2" cy="416.8" r="1.1" fill="#7a4e28"/>
<circle cx="453" cy="421" r="1.8" fill="#e08a30" fill-opacity="0.38"/><circle cx="453" cy="421" r="1.1" fill="#7a4e28"/>
<circle cx="455" cy="420.5" r="1.8" fill="#e08a30" fill-opacity="0.38"/><circle cx="455" cy="420.5" r="1.1" fill="#7a4e28"/>
<circle cx="466.3" cy="421.8" r="1.8" fill="#e08a30" fill-opacity="0.38"/><circle cx="466.3" cy="421.8" r="1.1" fill="#7a4e28"/>
<circle cx="456.8" cy="427.3" r="1.8" fill="#e08a30" fill-opacity="0.38"/><circle cx="456.8" cy="427.3" r="1.1" fill="#7a4e28"/>
<circle cx="456" cy="431.9" r="1.8" fill="#e08a30" fill-opacity="0.38"/><circle cx="456" cy="431.9" r="1.1" fill="#7a4e28"/>
<path d="M395.0,359.0 V435.5 H513.0" stroke="#161616" stroke-width="1.1" fill="none"/>
<line x1="392.0" y1="375.5" x2="395.0" y2="375.5" stroke="#1e1e1e" stroke-width="0.9"/>
<text x="388.80" y="377.80" font-size="6.5" text-anchor="end" fill="#333" textLength="10.30" lengthAdjust="spacingAndGlyphs" >100</text>
<line x1="392.0" y1="400.1" x2="395.0" y2="400.1" stroke="#1e1e1e" stroke-width="0.9"/>
<text x="388.80" y="402.40" font-size="6.5" text-anchor="end" fill="#333" textLength="6.90" lengthAdjust="spacingAndGlyphs" >10</text>
<line x1="392.0" y1="424.7" x2="395.0" y2="424.7" stroke="#1e1e1e" stroke-width="0.9"/>
<text x="388.80" y="427.00" font-size="6.5" text-anchor="end" fill="#333" textLength="3.40" lengthAdjust="spacingAndGlyphs" >1</text>
<line x1="416.0" y1="435.5" x2="416.0" y2="438.5" stroke="#1e1e1e" stroke-width="0.9"/>
<text x="416.00" y="447.60" font-size="6.6" text-anchor="middle" fill="#333" textLength="17.50" lengthAdjust="spacingAndGlyphs" >1e+01</text>
<line x1="449.0" y1="435.5" x2="449.0" y2="438.5" stroke="#1e1e1e" stroke-width="0.9"/>
<text x="449.00" y="447.60" font-size="6.6" text-anchor="middle" fill="#333" textLength="17.50" lengthAdjust="spacingAndGlyphs" >1e+03</text>
<line x1="482.0" y1="435.5" x2="482.0" y2="438.5" stroke="#1e1e1e" stroke-width="0.9"/>
<text x="482.00" y="447.60" font-size="6.6" text-anchor="middle" fill="#333" textLength="17.50" lengthAdjust="spacingAndGlyphs" >1e+05</text>
<text x="454.50" y="458.80" font-size="8.4" text-anchor="middle" fill="#333" textLength="117.50" lengthAdjust="spacingAndGlyphs" stroke="#333" stroke-width="0.06">KSHV viral load (copies/million PBMCs)</text>
<text x="373.40" y="397.90" font-size="7.8" text-anchor="middle" fill="#333" textLength="37.80" lengthAdjust="spacingAndGlyphs" transform="rotate(-90 373.40 397.90)" stroke="#333" stroke-width="0.06">IL6 (pg/mL)</text>
<text x="396.8" y="369.9" font-size="6.8" fill="#333" textLength="58.8" lengthAdjust="spacingAndGlyphs"><tspan font-style="italic">R</tspan> = 0.54, <tspan font-style="italic">P</tspan> = .00042</text>
<text x="359.90" y="355.00" font-size="12.2" text-anchor="start" fill="#111" font-weight="bold" textLength="8.40" lengthAdjust="spacingAndGlyphs" stroke="#111" stroke-width="0.35">G</text>
<g fill="#333"><rect x="0" y="0" width="1.2" height="468"/><rect x="0" y="0" width="520" height="1"/><rect x="518.9" y="0" width="1.1" height="468"/><rect x="0" y="466.9" width="520" height="1.1"/></g>
</svg>
</body></html>
